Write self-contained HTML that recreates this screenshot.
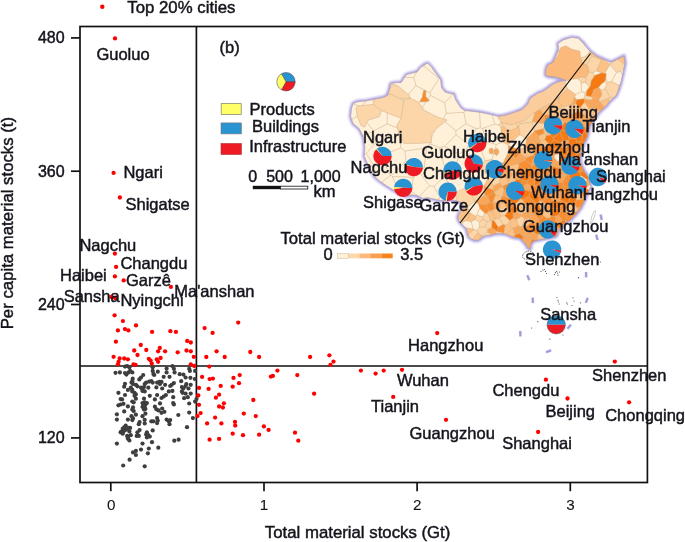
<!DOCTYPE html>
<html lang="en"><head><meta charset="utf-8"><title>Material stocks</title>
<style>html,body{margin:0;padding:0;background:#fff}svg{display:block}</style></head>
<body><svg width="685" height="542" viewBox="0 0 685 542" font-family="'Liberation Sans', Arial, sans-serif" font-size="16.5px" fill="#14141c">
<style>text{stroke:#14141c;stroke-width:0.45px}</style>
<rect width="685" height="542" fill="#fff" stroke="none"/>
<defs><filter id="gl" x="-10%" y="-10%" width="120%" height="120%"><feGaussianBlur stdDeviation="0.9"/></filter></defs>
<path d="M351.4,108.7 L353.1,103.6 L357.5,101.7 L366.3,100.8 L375.0,99.1 L383.8,97.3 L387.3,95.5 L389.3,90.0 L390.8,83.5 L396.0,82.6 L401.3,82.4 L404.0,78.0 L406.6,74.5 L412.0,73.0 L417.1,71.9 L420.6,67.5 L424.0,64.8 L427.6,63.1 L431.1,66.6 L435.5,72.8 L440.7,79.8 L441.6,87.7 L445.1,92.0 L449.5,93.3 L453.9,94.2 L455.5,99.5 L458.3,104.1 L461.0,108.0 L464.6,110.4 L472.0,111.2 L479.7,112.2 L486.0,113.4 L492.2,114.8 L498.0,116.3 L504.8,115.3 L510.0,113.8 L516.0,111.8 L522.3,109.4 L527.6,104.2 L530.2,98.2 L538.1,93.0 L543.1,91.2 L547.5,88.3 L551.9,84.8 L556.3,82.4 L563.3,80.8 L566.0,80.3 L560.0,78.4 L554.0,77.0 L548.0,76.4 L545.5,75.0 L545.8,69.9 L547.5,65.0 L552.8,62.4 L556.0,55.5 L558.6,48.5 L557.8,43.6 L563.3,39.9 L572.0,37.3 L578.2,38.2 L582.6,42.3 L586.0,46.6 L589.6,51.0 L596.6,56.3 L603.6,59.2 L610.6,62.4 L617.6,59.2 L623.9,56.0 L625.0,63.3 L623.2,72.0 L621.3,80.8 L618.7,89.6 L616.0,95.7 L613.5,97.8 L610.0,101.0 L606.5,105.5 L602.5,109.0 L598.8,112.5 L596.0,117.0 L592.5,121.0 L589.5,126.0 L588.2,132.0 L587.0,137.3 L584.2,142.8 L581.5,150.0 L580.0,158.0 L580.8,163.8 L584.0,170.8 L588.6,177.8 L590.6,186.6 L586.5,195.3 L584.6,200.5 L581.1,207.5 L575.8,214.5 L570.6,219.8 L563.6,224.2 L559.2,229.4 L556.0,236.4 L549.5,238.0 L542.6,239.2 L533.8,241.0 L531.0,243.5 L530.2,248.9 L527.8,248.0 L525.9,244.3 L522.5,240.5 L519.8,238.2 L512.8,237.3 L507.5,234.7 L500.5,233.4 L495.0,233.8 L491.1,235.0 L486.5,235.5 L482.3,237.0 L478.8,240.2 L474.5,240.3 L471.5,239.0 L468.5,236.5 L467.2,232.0 L466.0,228.0 L462.5,225.0 L459.2,221.5 L457.8,217.3 L459.6,212.5 L463.5,208.0 L462.0,203.0 L456.0,200.5 L448.0,199.5 L440.3,200.5 L433.3,198.9 L427.5,197.8 L422.8,198.5 L417.5,195.8 L411.8,195.0 L405.0,196.0 L399.0,193.5 L392.6,189.6 L386.0,185.5 L380.3,181.5 L374.5,176.5 L370.5,170.0 L367.0,163.0 L364.2,156.3 L364.8,147.6 L363.7,137.6 L359.3,128.8 L353.1,123.6 L350.5,116.6Z" fill="none" stroke="#b0a4e6" stroke-width="3.8" stroke-linejoin="round" filter="url(#gl)"/>
<path d="M351.4,108.7 L353.1,103.6 L357.5,101.7 L366.3,100.8 L375.0,99.1 L383.8,97.3 L387.3,95.5 L389.3,90.0 L390.8,83.5 L396.0,82.6 L401.3,82.4 L404.0,78.0 L406.6,74.5 L412.0,73.0 L417.1,71.9 L420.6,67.5 L424.0,64.8 L427.6,63.1 L431.1,66.6 L435.5,72.8 L440.7,79.8 L441.6,87.7 L445.1,92.0 L449.5,93.3 L453.9,94.2 L455.5,99.5 L458.3,104.1 L461.0,108.0 L464.6,110.4 L472.0,111.2 L479.7,112.2 L486.0,113.4 L492.2,114.8 L498.0,116.3 L504.8,115.3 L510.0,113.8 L516.0,111.8 L522.3,109.4 L527.6,104.2 L530.2,98.2 L538.1,93.0 L543.1,91.2 L547.5,88.3 L551.9,84.8 L556.3,82.4 L563.3,80.8 L566.0,80.3 L560.0,78.4 L554.0,77.0 L548.0,76.4 L545.5,75.0 L545.8,69.9 L547.5,65.0 L552.8,62.4 L556.0,55.5 L558.6,48.5 L557.8,43.6 L563.3,39.9 L572.0,37.3 L578.2,38.2 L582.6,42.3 L586.0,46.6 L589.6,51.0 L596.6,56.3 L603.6,59.2 L610.6,62.4 L617.6,59.2 L623.9,56.0 L625.0,63.3 L623.2,72.0 L621.3,80.8 L618.7,89.6 L616.0,95.7 L613.5,97.8 L610.0,101.0 L606.5,105.5 L602.5,109.0 L598.8,112.5 L596.0,117.0 L592.5,121.0 L589.5,126.0 L588.2,132.0 L587.0,137.3 L584.2,142.8 L581.5,150.0 L580.0,158.0 L580.8,163.8 L584.0,170.8 L588.6,177.8 L590.6,186.6 L586.5,195.3 L584.6,200.5 L581.1,207.5 L575.8,214.5 L570.6,219.8 L563.6,224.2 L559.2,229.4 L556.0,236.4 L549.5,238.0 L542.6,239.2 L533.8,241.0 L531.0,243.5 L530.2,248.9 L527.8,248.0 L525.9,244.3 L522.5,240.5 L519.8,238.2 L512.8,237.3 L507.5,234.7 L500.5,233.4 L495.0,233.8 L491.1,235.0 L486.5,235.5 L482.3,237.0 L478.8,240.2 L474.5,240.3 L471.5,239.0 L468.5,236.5 L467.2,232.0 L466.0,228.0 L462.5,225.0 L459.2,221.5 L457.8,217.3 L459.6,212.5 L463.5,208.0 L462.0,203.0 L456.0,200.5 L448.0,199.5 L440.3,200.5 L433.3,198.9 L427.5,197.8 L422.8,198.5 L417.5,195.8 L411.8,195.0 L405.0,196.0 L399.0,193.5 L392.6,189.6 L386.0,185.5 L380.3,181.5 L374.5,176.5 L370.5,170.0 L367.0,163.0 L364.2,156.3 L364.8,147.6 L363.7,137.6 L359.3,128.8 L353.1,123.6 L350.5,116.6Z" fill="#fef0d9"/>
<g stroke="#c9a882" stroke-width="0.35" stroke-linejoin="round">
<path d="M439.1,78.6L439.7,78.5L435.5,72.8L431.1,66.6L427.6,63.1L426.3,63.7L423.6,66.1Z" fill="#fef0d9"/>
<path d="M501.0,121.6L498.0,117.5L501.4,115.8L498.0,116.3L492.2,114.8L491.8,114.7L494.8,124.2L498.9,125.2Z" fill="#fef0d9"/>
<path d="M363.7,137.6L364.8,147.6L364.4,153.8L366.3,153.6L375.4,142.9L373.6,131.4L362.6,135.3Z" fill="#fef0d9"/>
<path d="M373.9,130.7L366.8,122.5L364.5,127.1L361.0,125.3L357.5,116.6L357.4,116.1L351.6,119.5L353.1,123.6L359.3,128.8L362.6,135.3L373.6,131.4Z" fill="#fef0d9"/>
<path d="M467.4,220.6L470.3,213.1L467.8,207.5L463.5,208.0L459.6,212.5L457.9,217.0L462.8,221.8Z" fill="#fcc185"/>
<path d="M390.8,83.5L390.2,86.1L392.2,84.9L392.5,83.2Z" fill="#fef0d9"/>
<path d="M523.4,237.3L521.5,239.6L522.5,240.5L525.9,244.3L526.2,244.8L527.7,243.0Z" fill="#faa659"/>
<path d="M500.7,127.4L504.7,127.1L502.0,124.0L501.6,122.4L501.0,121.6L498.9,125.2Z" fill="#fcd6a8"/>
<path d="M519.0,126.3L520.4,123.7L519.8,122.0L516.6,123.2L516.9,126.4Z" fill="#fcd6a8"/>
<path d="M593.4,98.0L591.3,96.6L586.1,95.7L586.8,91.1L584.9,92.7L584.2,98.8L584.6,99.2L590.9,100.3Z" fill="#fcd6a8"/>
<path d="M405.1,151.0L400.6,147.8L387.6,153.0L384.9,165.1L390.4,175.4L391.3,175.6L406.0,161.2Z" fill="#fef0d9"/>
<path d="M532.4,121.6L535.3,111.8L535.0,112.0L525.0,120.0L519.8,122.0L520.4,123.7L531.8,122.3Z" fill="#fcd6a8"/>
<path d="M543.8,123.5L532.4,121.6L531.8,122.3L534.8,130.8L543.5,128.7L545.3,125.3Z" fill="#fcd6a8"/>
<path d="M439.3,147.5L430.2,143.8L426.5,147.7L424.1,167.2L445.3,171.0L445.6,170.6Z" fill="#fef0d9"/>
<path d="M573.8,192.5L573.9,192.5L574.2,192.2L575.5,186.2L571.5,183.8L567.6,187.0Z" fill="#f57a14"/>
<path d="M426.5,147.7L405.1,151.0L406.0,161.2L419.0,172.4L419.4,172.3L424.1,167.2Z" fill="#fef0d9"/>
<path d="M497.2,231.7L498.4,227.0L493.9,220.3L491.9,221.0L491.5,227.2Z" fill="#f57a14"/>
<path d="M550.3,103.2L559.2,98.3L560.0,96.0L556.0,100.0L550.2,103.2Z" fill="#fcc185"/>
<path d="M625.0,63.3L623.9,56.0L617.8,59.1L624.6,65.1Z" fill="#fcc185"/>
<path d="M474.8,201.2L467.5,186.7L455.4,192.4L455.4,192.4L456.2,200.6L462.0,203.0L463.5,208.0L463.5,208.0L467.8,207.5Z" fill="#fcd6a8"/>
<path d="M400.2,137.0L399.6,136.0L397.6,128.1L387.3,123.8L373.9,130.7L373.6,131.4L375.4,142.9L387.6,153.0L400.6,147.8Z" fill="#fef0d9"/>
<path d="M566.6,155.2L561.3,155.1L559.1,160.9L563.5,163.2L567.7,157.0Z" fill="#f57a14"/>
<path d="M594.9,108.1L600.0,102.1L600.1,101.7L598.2,99.0L593.9,98.3L593.4,98.0L590.9,100.3L593.2,108.3L593.5,108.5Z" fill="#faa659"/>
<path d="M542.9,169.3L550.0,166.8L547.1,159.4L545.3,157.5L540.5,159.8L539.0,163.0Z" fill="#faa659"/>
<path d="M508.0,144.9L520.2,134.6L519.0,126.3L516.9,126.4L517.0,128.0L508.0,131.0L504.7,127.1L500.7,127.4L502.3,142.1Z" fill="#fcc185"/>
<path d="M488.3,176.7L479.6,166.7L476.4,167.3L467.6,174.8L468.0,185.6L483.9,185.9L487.8,179.2Z" fill="#fef0d9"/>
<path d="M584.9,92.7L581.7,91.6L581.7,91.8L575.5,94.4L574.6,97.0L576.5,99.7L584.2,98.8Z" fill="#fef0d9"/>
<path d="M467.6,174.8L455.5,168.6L445.6,170.6L445.3,171.0L444.1,176.7L455.4,192.4L467.5,186.7L468.0,185.6Z" fill="#fef0d9"/>
<path d="M457.9,217.0L457.8,217.3L459.2,221.5L462.5,225.0L462.8,225.3L462.8,221.8Z" fill="#fcd6a8"/>
<path d="M503.0,224.2L498.4,227.0L497.2,231.7L497.2,231.8L504.0,233.3L505.2,224.9Z" fill="#f88d31"/>
<path d="M434.9,130.3L431.1,134.1L431.3,138.4Z" fill="#fef0d9"/>
<path d="M623.9,68.4L624.6,65.1L617.8,59.1L617.6,59.2L616.0,59.9L609.7,64.1L609.8,64.6L616.4,72.4L620.7,71.7Z" fill="#fcd6a8"/>
<path d="M400.6,147.8L405.1,151.0L426.5,147.7L430.2,143.8L430.0,142.6L417.1,143.3L404.0,143.3L400.2,137.0Z" fill="#fef0d9"/>
<path d="M439.3,147.5L445.6,170.6L455.5,168.6L459.2,153.9L444.7,146.5Z" fill="#fef0d9"/>
<path d="M488.3,176.7L497.4,175.1L499.6,163.3L492.0,159.3L484.8,160.8L479.6,166.7Z" fill="#fcd6a8"/>
<path d="M446.2,113.2L443.1,119.0L446.9,120.1L444.9,121.7L456.0,130.9L466.1,123.7L464.0,112.3Z" fill="#fef0d9"/>
<path d="M384.9,165.1L372.7,164.5L369.5,168.1L370.5,170.0L374.5,176.5L380.3,181.5L381.6,182.4L390.4,175.4Z" fill="#fef0d9"/>
<path d="M416.7,72.0L412.0,73.0L406.6,74.5L404.6,77.3L413.6,77.7Z" fill="#fef0d9"/>
<path d="M366.4,100.8L362.1,105.6L373.3,104.5L373.3,99.4L375.0,99.1Z" fill="#fef0d9"/>
<path d="M373.9,130.7L387.3,123.8L387.4,112.8L381.2,110.4L379.4,116.6L368.0,120.1L366.8,122.5Z" fill="#fef0d9"/>
<path d="M468.6,145.7L480.3,147.6L486.5,141.6L482.6,128.5L480.3,127.7L476.1,128.6L468.1,143.8Z" fill="#fef0d9"/>
<path d="M429.7,92.8L430.4,95.4L444.5,102.8L453.4,94.1L449.5,93.3L445.1,92.0L441.6,87.7L440.7,79.8L439.7,78.5L439.1,78.6Z" fill="#fef0d9"/>
<path d="M589.0,71.8L588.2,68.9L588.4,72.3Z" fill="#fcd6a8"/>
<path d="M586.9,64.4L582.6,63.2L582.6,63.3L587.4,66.1Z" fill="#fcd6a8"/>
<path d="M589.0,190.0L589.0,190.0L590.6,186.6L590.1,184.3L585.5,188.2Z" fill="#fef0d9"/>
<path d="M494.1,208.8L499.1,209.2L499.7,208.5L500.9,202.2L500.7,202.0L492.6,202.4L492.6,202.5Z" fill="#faa659"/>
<path d="M574.2,192.2L573.9,192.5L576.4,200.3L583.9,199.0L582.1,192.6Z" fill="#fcc185"/>
<path d="M366.4,100.8L366.3,100.8L357.5,101.7L353.1,103.6L353.0,103.9L358.1,106.1L358.4,105.9L362.1,105.6Z" fill="#fef0d9"/>
<path d="M419.4,172.3L419.0,172.4L413.2,177.4L411.4,191.5L417.4,195.8L417.5,195.8L419.3,196.7L429.6,185.7Z" fill="#fef0d9"/>
<path d="M520.6,226.5L519.5,233.7L523.5,236.9L523.6,236.8L526.8,229.7L525.2,227.4L522.1,226.2Z" fill="#faa659"/>
<path d="M583.6,143.5L584.0,143.3L584.2,142.8L587.0,137.3L587.6,134.5L584.8,131.4L582.6,132.7L581.8,141.9Z" fill="#f57a14"/>
<path d="M534.0,213.7L534.0,204.9L528.3,206.1L528.9,212.6L531.2,214.8Z" fill="#faa659"/>
<path d="M553.3,137.8L553.5,139.9L560.5,143.0L563.3,140.3L560.0,132.2Z" fill="#f57a14"/>
<path d="M554.0,60.2L553.8,60.3L552.8,62.4L553.1,61.7L553.7,61.5L554.4,60.5Z" fill="#fcc185"/>
<path d="M547.2,75.9L548.0,76.4L554.0,77.0L554.1,77.0L554.7,76.8L554.0,76.6L548.0,76.0L547.3,76.0L547.2,75.9Z" fill="#fcc185"/>
<path d="M471.4,221.9L467.4,220.6L462.8,221.8L462.8,225.3L466.0,228.0L473.4,229.3Z" fill="#fef0d9"/>
<path d="M586.0,77.5L581.0,77.0L577.0,78.5L580.8,81.3L581.0,83.2L585.5,82.4Z" fill="#fcd6a8"/>
<path d="M429.7,92.8L425.8,90.7L425.8,96.4L427.9,99.1L430.4,95.4Z" fill="#fef0d9"/>
<path d="M415.8,85.5L408.2,94.6L409.2,95.5L410.1,98.2L418.8,102.6L422.3,107.7L426.3,101.6L425.8,101.7L419.7,101.7L422.3,97.3L423.7,90.6L425.6,90.6Z" fill="#fef0d9"/>
<path d="M403.8,99.8L404.5,100.6L410.1,98.2L405.2,98.2Z" fill="#fef0d9"/>
<path d="M431.3,138.4L431.5,142.5L430.0,142.6L430.2,143.8L439.3,147.5L444.7,146.5L456.1,134.7L456.0,130.9L444.9,121.7L438.1,127.1L434.9,130.3Z" fill="#fef0d9"/>
<path d="M512.8,227.9L512.4,227.8L506.0,234.4L507.5,234.7L511.7,236.7L514.5,235.8L515.1,234.8Z" fill="#fcc185"/>
<path d="M467.9,234.4L468.5,236.5L468.6,236.6L468.5,234.7Z" fill="#fcd6a8"/>
<path d="M494.5,151.2L494.5,149.5L495.1,149.3L496.6,144.5L486.5,141.6L480.3,147.6L484.8,160.8L492.0,159.3Z" fill="#fef0d9"/>
<path d="M554.2,157.5L555.0,154.5L552.4,151.8L545.4,154.8L545.3,157.5L547.1,159.4Z" fill="#faa659"/>
<path d="M500.9,202.2L499.7,208.5L506.8,208.8L505.7,203.8Z" fill="#fcc185"/>
<path d="M366.3,153.6L372.7,164.5L384.9,165.1L387.6,153.0L375.4,142.9Z" fill="#fef0d9"/>
<path d="M568.3,140.2L563.3,140.3L560.5,143.0L560.6,146.8L566.0,148.5L569.3,144.1Z" fill="#faa659"/>
<path d="M505.7,203.8L509.6,200.8L509.4,198.2L502.5,195.9L501.5,196.5L500.7,202.0L500.9,202.2Z" fill="#f88d31"/>
<path d="M520.2,134.6L508.0,144.9L508.3,145.7L519.6,149.9L525.3,146.7L526.6,139.2L526.4,138.8Z" fill="#fef0d9"/>
<path d="M494.3,185.5L487.8,179.2L483.9,185.9L484.2,186.5L493.1,190.0Z" fill="#fcc185"/>
<path d="M481.0,235.0L479.0,240.0L482.3,237.0L483.6,236.6L482.7,235.4Z" fill="#fcc185"/>
<path d="M546.2,231.8L547.1,224.7L545.0,222.9L538.4,224.0L538.3,224.2L545.0,233.2L545.3,233.2Z" fill="#f88d31"/>
<path d="M611.7,81.3L607.5,82.3L606.7,83.1L605.1,88.6L610.1,97.2L612.8,97.7L613.8,97.5L616.0,95.7L618.4,90.3L618.5,85.0Z" fill="#fcd6a8"/>
<path d="M391.3,175.6L390.4,175.4L381.6,182.4L386.0,185.5L392.6,189.6L399.0,193.5L400.0,193.9L400.1,193.7L392.5,176.6Z" fill="#fef0d9"/>
<path d="M502.3,186.2L502.3,186.4L504.1,190.5L513.4,190.8L514.0,187.0L513.0,185.1L508.9,182.8Z" fill="#f88d31"/>
<path d="M528.3,206.1L524.4,204.3L522.4,207.5L523.3,212.5L528.9,212.6Z" fill="#fcc185"/>
<path d="M609.7,64.1L616.0,59.9L610.6,62.4L603.6,59.2L603.2,59.0L603.0,59.6Z" fill="#fef0d9"/>
<path d="M585.9,127.4L573.4,122.4L572.7,128.7L573.8,130.1L581.4,132.8L582.6,132.7L584.8,131.4Z" fill="#f57a14"/>
<path d="M487.2,221.5L490.8,220.7L487.2,212.9L484.9,213.2L482.6,217.0L483.0,219.7Z" fill="#fcd6a8"/>
<path d="M459.2,153.9L465.7,150.9L468.6,145.7L468.1,143.8L456.1,134.7L444.7,146.5Z" fill="#fef0d9"/>
<path d="M548.1,177.0L551.2,167.4L550.0,166.8L542.9,169.3L541.4,171.4L541.5,171.7L545.3,177.1Z" fill="#f88d31"/>
<path d="M562.6,182.3L566.1,176.0L562.2,173.9L555.6,175.7L555.0,177.0L557.5,182.2Z" fill="#faa659"/>
<path d="M555.1,226.2L551.6,224.1L547.1,224.7L546.2,231.8Z" fill="#f88d31"/>
<path d="M446.2,113.2L464.0,112.3L465.4,110.5L464.6,110.4L461.0,108.0L458.3,104.1L455.5,99.5L453.9,94.2L453.4,94.1L444.5,102.8Z" fill="#fef0d9"/>
<path d="M555.6,175.7L551.6,167.5L551.2,167.4L548.1,177.0L549.9,178.5L555.0,177.0Z" fill="#faa659"/>
<path d="M555.3,216.6L558.6,214.9L560.4,211.0L558.2,208.4L552.3,208.5L550.2,210.4L551.3,216.1Z" fill="#f57a14"/>
<path d="M570.4,213.9L572.6,217.7L575.8,214.5L577.8,211.9L577.3,211.2Z" fill="#f88d31"/>
<path d="M542.0,181.7L541.9,181.7L535.0,186.1L542.2,190.6L542.8,190.3L544.9,185.7Z" fill="#f57a14"/>
<path d="M498.7,176.2L502.7,176.2L509.9,171.4L509.0,166.0L503.6,162.4L499.6,163.3L497.4,175.1Z" fill="#faa659"/>
<path d="M527.8,183.2L527.5,181.1L521.2,180.0L520.6,185.4L522.7,186.8Z" fill="#f88d31"/>
<path d="M573.5,204.1L576.4,200.3L573.9,192.5L573.8,192.5L569.0,195.3L569.3,204.0L569.3,204.0Z" fill="#f57a14"/>
<path d="M491.8,114.7L486.0,113.4L479.7,112.2L479.5,112.2L480.3,127.7L482.6,128.5L494.8,124.2Z" fill="#fef0d9"/>
<path d="M562.2,173.9L566.1,176.0L567.1,175.7L567.4,166.6L564.2,164.9L559.8,168.9Z" fill="#faa659"/>
<path d="M496.6,144.5L502.3,142.1L500.7,127.4L498.9,125.2L494.8,124.2L482.6,128.5L486.5,141.6Z" fill="#fef0d9"/>
<path d="M596.3,70.7L592.9,72.5L594.4,76.1L594.8,75.5L601.8,72.9L602.2,73.0Z" fill="#fef0d9"/>
<path d="M606.7,83.1L607.5,82.3L605.7,77.6L605.3,80.8L603.6,82.2Z" fill="#fef0d9"/>
<path d="M581.8,141.9L577.1,141.3L575.2,145.9L579.0,148.3L583.6,144.4L583.6,144.4L583.6,143.5Z" fill="#f57a14"/>
<path d="M600.6,90.4L601.8,94.8L599.2,99.2L598.2,99.0L600.1,101.7L609.0,98.2L610.1,97.2L605.1,88.6Z" fill="#fcd6a8"/>
<path d="M560.0,132.2L560.5,130.5L557.7,128.8L550.8,130.5L550.2,135.2L553.3,137.8Z" fill="#f57a14"/>
<path d="M433.9,186.2L429.6,185.7L419.3,196.7L422.8,198.5L427.5,197.8L433.3,198.9L438.7,200.1L439.7,196.9Z" fill="#fef0d9"/>
<path d="M618.4,90.3L618.7,89.6L620.2,84.5L618.5,85.0Z" fill="#fcd6a8"/>
<path d="M508.6,223.7L505.2,224.9L504.0,233.3L504.9,234.2L506.0,234.4L512.4,227.8Z" fill="#fcc185"/>
<path d="M555.8,125.8L557.7,128.8L560.5,130.5L561.3,130.1L563.9,122.7L561.5,119.1L557.0,120.2Z" fill="#fcc185"/>
<path d="M592.9,72.5L589.0,71.8L588.4,72.3L588.5,73.0L586.0,77.5L586.0,77.5L585.5,82.4L589.4,87.4L590.4,86.1L591.3,80.8L594.4,76.1Z" fill="#fcd6a8"/>
<path d="M524.4,204.3L528.3,206.1L534.0,204.9L536.2,202.9L528.5,196.6L522.8,199.7Z" fill="#f88d31"/>
<path d="M468.6,145.7L465.7,150.9L476.4,167.3L479.6,166.7L484.8,160.8L480.3,147.6Z" fill="#fef0d9"/>
<path d="M532.1,187.7L527.8,183.2L522.7,186.8L523.5,189.3L530.7,191.5L530.9,191.4Z" fill="#faa659"/>
<path d="M532.1,239.6L537.6,240.2L538.0,234.5L533.2,231.9L531.2,236.4Z" fill="#faa659"/>
<path d="M400.0,193.9L405.0,196.0L411.8,195.0L417.4,195.8L411.4,191.5L400.1,193.7Z" fill="#fef0d9"/>
<path d="M532.1,239.6L530.5,242.7L531.1,243.5L533.8,241.0L537.6,240.2L537.6,240.2Z" fill="#f57a14"/>
<path d="M610.1,97.2L609.0,98.2L607.9,103.6L610.0,101.0L612.9,98.4L612.8,97.7Z" fill="#fcd6a8"/>
<path d="M616.4,72.4L611.7,81.3L618.5,85.0L620.2,84.5L621.3,80.8L622.6,75.0L620.7,71.7Z" fill="#fef0d9"/>
<path d="M403.2,99.8L402.7,100.1L403.9,100.8L404.5,100.6L403.8,99.8Z" fill="#fef0d9"/>
<path d="M387.3,123.8L397.6,128.1L396.9,125.3L401.3,118.3L387.4,112.8Z" fill="#fef0d9"/>
<path d="M555.1,226.2L554.8,232.9L557.0,234.1L559.2,229.4L560.2,228.3L555.8,226.0Z" fill="#faa659"/>
<path d="M616.4,72.4L609.8,64.6L604.5,73.5L606.2,73.8L605.7,77.6L607.5,82.3L611.7,81.3Z" fill="#fef0d9"/>
<path d="M583.9,199.0L576.4,200.3L573.5,204.1L577.3,208.3L581.6,206.5L582.5,204.7L584.7,199.6Z" fill="#f88d31"/>
<path d="M550.2,135.2L550.8,130.5L547.1,125.4L545.3,125.3L543.5,128.7L544.0,133.3L546.3,135.4Z" fill="#fcc185"/>
<path d="M562.5,220.6L558.6,214.9L555.3,216.6L556.3,224.9Z" fill="#faa659"/>
<path d="M578.9,180.4L581.0,175.5L580.6,172.3L576.7,171.1L568.4,175.9L570.8,178.8Z" fill="#f57a14"/>
<path d="M479.5,208.0L476.8,215.1L482.6,217.0L484.9,213.2Z" fill="#fef0d9"/>
<path d="M586.4,126.9L585.9,127.4L584.8,131.4L587.6,134.5L588.2,132.0L589.3,127.1L587.1,126.5Z" fill="#f57a14"/>
<path d="M518.3,163.6L517.9,163.5L509.0,166.0L509.9,171.4L512.4,174.2L513.0,174.3L517.4,172.7L519.2,165.9Z" fill="#fcc185"/>
<path d="M567.7,157.0L571.1,158.8L576.7,154.8L576.8,154.5L572.6,150.4L567.6,152.1L566.6,155.2Z" fill="#f57a14"/>
<path d="M531.2,236.4L533.2,231.9L533.2,231.9L526.8,229.7L523.6,236.8Z" fill="#faa659"/>
<path d="M549.7,236.5L554.8,232.9L555.1,226.2L555.1,226.2L546.2,231.8L545.3,233.2L546.4,235.2Z" fill="#faa659"/>
<path d="M589.7,51.3L586.0,56.0L580.8,58.0L582.6,63.2L586.9,64.4L592.1,56.3Z" fill="#fcd6a8"/>
<path d="M519.6,149.9L508.3,145.7L508.2,152.7L516.3,158.5L520.1,152.9Z" fill="#f88d31"/>
<path d="M465.7,150.9L459.2,153.9L455.5,168.6L467.6,174.8L476.4,167.3Z" fill="#fef0d9"/>
<path d="M558.2,208.4L560.4,211.0L566.0,210.6L569.3,204.0L569.3,204.0L560.4,200.0L558.7,201.6Z" fill="#f88d31"/>
<path d="M558.7,201.6L552.4,200.3L550.9,203.3L552.3,208.5L558.2,208.4Z" fill="#f57a14"/>
<path d="M482.7,235.4L483.6,236.6L486.5,235.5L491.1,235.0L492.1,234.7L487.3,232.0Z" fill="#fcd6a8"/>
<path d="M538.0,234.5L545.0,233.2L538.3,224.2L536.2,224.9L533.2,231.9L533.2,231.9Z" fill="#f57a14"/>
<path d="M438.7,200.1L440.3,200.5L448.0,199.5L456.0,200.5L456.2,200.6L455.4,192.4L439.7,196.9Z" fill="#fef0d9"/>
<path d="M513.0,174.3L512.4,174.2L508.4,180.3L508.9,182.8L513.0,185.1L515.8,179.7Z" fill="#fcc185"/>
<path d="M497.2,231.7L491.5,227.2L487.6,229.6L487.3,232.0L492.1,234.7L495.0,233.8L495.7,233.7L497.2,231.8Z" fill="#faa659"/>
<path d="M353.0,103.9L351.4,108.7L350.5,116.6L351.6,119.5L357.4,116.1L356.0,108.0L358.1,106.1Z" fill="#fef0d9"/>
<path d="M520.2,134.6L526.4,138.8L534.7,131.6L534.8,130.8L531.8,122.3L520.4,123.7L519.0,126.3Z" fill="#fcd6a8"/>
<path d="M573.8,192.5L567.6,187.0L564.3,187.0L561.6,192.8L569.0,195.3Z" fill="#f88d31"/>
<path d="M539.0,219.6L538.4,224.0L545.0,222.9L547.1,217.9L543.3,215.4Z" fill="#f88d31"/>
<path d="M573.3,146.6L569.3,144.1L566.0,148.5L567.6,152.1L572.6,150.4Z" fill="#f57a14"/>
<path d="M550.3,103.2L552.9,106.9L560.3,110.1L561.2,109.2L562.1,106.1L558.0,102.0L559.2,98.3Z" fill="#fcc185"/>
<path d="M483.0,219.7L482.6,217.0L476.8,215.1L475.6,215.9L475.2,219.6L479.4,222.6Z" fill="#fcd6a8"/>
<path d="M391.3,175.6L392.5,176.6L413.2,177.4L419.0,172.4L406.0,161.2Z" fill="#fef0d9"/>
<path d="M542.2,190.6L538.7,195.2L539.4,201.1L542.1,201.1L549.8,195.8L549.8,195.5L542.8,190.3Z" fill="#f88d31"/>
<path d="M366.3,153.6L364.4,153.8L364.2,156.3L367.0,163.0L369.5,168.1L372.7,164.5Z" fill="#fef0d9"/>
<path d="M529.7,218.6L531.2,214.8L528.9,212.6L523.3,212.5L521.5,215.1L521.5,216.2L524.6,219.0Z" fill="#faa659"/>
<path d="M584.9,172.2L584.0,170.8L583.0,168.5L581.6,171.7Z" fill="#f57a14"/>
<path d="M444.1,176.7L433.9,186.2L439.7,196.9L455.4,192.4L455.4,192.4Z" fill="#fef0d9"/>
<path d="M484.9,213.2L487.2,212.9L489.2,211.1L485.9,204.5L478.4,203.9L479.5,208.0Z" fill="#f88d31"/>
<path d="M423.6,66.1L422.3,66.1L420.6,67.5L417.1,71.9L416.7,72.0L413.6,77.7L415.8,85.5L425.6,90.6L425.8,90.6L425.8,90.7L429.7,92.8L439.1,78.6Z" fill="#fef0d9"/>
<path d="M549.6,144.3L544.5,139.4L540.4,140.9L540.1,144.5L543.7,148.4Z" fill="#fcc185"/>
<path d="M539.4,201.1L538.1,202.5L541.4,210.9L542.5,211.6L546.6,209.6L546.0,204.2L542.1,201.1Z" fill="#fcc185"/>
<path d="M601.2,60.0L603.0,59.6L603.2,59.0L596.6,56.3L589.6,51.0L589.8,51.2L589.7,51.3L592.1,56.3Z" fill="#fcc185"/>
<path d="M501.5,196.5L495.6,194.6L492.6,202.4L500.7,202.0Z" fill="#fcc185"/>
<path d="M538.7,195.2L530.9,191.4L530.7,191.5L528.5,196.6L536.2,202.9L538.1,202.5L539.4,201.1Z" fill="#f57a14"/>
<path d="M605.1,88.6L606.7,83.1L603.6,82.2L601.0,84.3L598.3,87.8L600.1,88.7L600.6,90.4Z" fill="#fef0d9"/>
<path d="M583.5,186.0L584.8,188.1L585.5,188.2L590.1,184.3L588.9,179.1L587.0,179.5Z" fill="#faa659"/>
<path d="M456.1,134.7L468.1,143.8L476.1,128.6L466.1,123.7L456.0,130.9Z" fill="#fef0d9"/>
<path d="M573.4,122.3L574.1,119.5L572.7,114.5L572.5,114.3L562.1,116.4L561.5,119.1L563.9,122.7Z" fill="#faa659"/>
<path d="M501.5,196.5L502.5,195.9L504.1,190.5L502.3,186.4L494.2,191.9L494.2,192.8L495.6,194.6Z" fill="#fcc185"/>
<path d="M400.1,193.7L411.4,191.5L413.2,177.4L392.5,176.6Z" fill="#fef0d9"/>
<path d="M578.3,110.8L584.3,115.2L584.9,115.0L587.1,110.0L580.3,107.5L579.6,107.7Z" fill="#fcc185"/>
<path d="M517.8,208.6L522.4,207.5L524.4,204.3L522.8,199.7L520.7,198.7L514.0,204.9Z" fill="#fcc185"/>
<path d="M570.6,219.8L572.6,217.7L570.4,213.9L567.7,213.1L565.5,221.3L565.6,221.4L567.6,221.7Z" fill="#f88d31"/>
<path d="M503.0,224.2L499.4,217.9L495.5,218.9L493.9,220.3L498.4,227.0Z" fill="#fcd6a8"/>
<path d="M531.4,222.2L536.2,224.9L538.3,224.2L538.4,224.0L539.0,219.6L534.5,213.8L534.0,213.7L531.2,214.8L529.7,218.6Z" fill="#faa659"/>
<path d="M531.2,168.1L524.7,169.9L523.1,174.4L529.7,177.5L531.5,176.4L532.2,170.0Z" fill="#f57a14"/>
<path d="M573.4,122.4L585.9,127.4L586.4,126.9L582.3,118.0L574.1,119.5L573.4,122.3Z" fill="#faa659"/>
<path d="M523.1,174.4L524.7,169.9L519.2,165.9L517.4,172.7L521.5,175.3Z" fill="#f57a14"/>
<path d="M554.4,60.5L558.9,54.5L560.6,47.8L560.6,47.8L558.9,52.0L558.3,49.4L556.0,55.5L554.0,59.7L554.0,60.2Z" fill="#fcd6a8"/>
<path d="M530.5,242.7L532.1,239.6L531.2,236.4L523.6,236.8L523.5,236.9L523.4,237.3L527.7,243.0Z" fill="#faa659"/>
<path d="M579.5,161.6L576.7,154.8L571.1,158.8L571.6,160.6L576.4,163.3Z" fill="#f88d31"/>
<path d="M511.7,236.7L512.8,237.3L515.5,237.6L514.5,235.8Z" fill="#faa659"/>
<path d="M545.0,222.9L547.1,224.7L551.6,224.1L549.8,217.4L547.1,217.9Z" fill="#f88d31"/>
<path d="M477.8,232.6L472.4,239.4L474.5,240.3L478.8,240.2L479.0,240.0L481.0,235.0Z" fill="#fcc185"/>
<path d="M512.8,227.9L515.1,234.8L519.5,233.7L520.6,226.5L518.7,225.7Z" fill="#faa659"/>
<path d="M520.6,185.4L521.2,180.0L520.7,179.3L515.8,179.7L513.0,185.1L514.0,187.0Z" fill="#f57a14"/>
<path d="M566.9,131.4L569.1,139.3L573.1,138.1L573.8,130.1L572.7,128.7Z" fill="#f88d31"/>
<path d="M561.3,130.1L566.9,131.4L572.7,128.7L573.4,122.4L573.4,122.3L563.9,122.7Z" fill="#f57a14"/>
<path d="M514.5,193.5L509.4,198.2L509.6,200.8L513.3,204.9L514.0,204.9L520.7,198.7L518.7,195.7Z" fill="#f57a14"/>
<path d="M575.4,138.9L577.1,141.3L581.8,141.9L582.6,132.7L581.4,132.8Z" fill="#f57a14"/>
<path d="M589.0,108.6L584.5,102.1L580.3,107.5L587.1,110.0Z" fill="#fcd6a8"/>
<path d="M570.9,105.6L570.6,110.6L572.5,114.3L572.7,114.5L578.3,110.8L579.6,107.7L575.6,103.2Z" fill="#fcc185"/>
<path d="M579.4,153.0L580.9,153.3L581.5,150.0L583.6,144.4L579.0,148.3Z" fill="#faa659"/>
<path d="M514.5,193.5L518.7,195.7L523.5,189.3L522.7,186.8L520.6,185.4L514.0,187.0L513.4,190.8Z" fill="#f88d31"/>
<path d="M557.0,120.2L552.7,118.2L549.4,124.1L555.8,125.8Z" fill="#fcd6a8"/>
<path d="M513.3,218.1L509.6,220.4L508.6,223.7L512.4,227.8L512.8,227.9L518.7,225.7L516.5,219.4Z" fill="#fcc185"/>
<path d="M561.2,109.2L570.6,110.6L570.9,105.6L569.8,104.7L563.0,107.0L562.1,106.1Z" fill="#fcd6a8"/>
<path d="M497.2,231.8L495.7,233.7L500.5,233.4L504.9,234.2L504.0,233.3Z" fill="#fcd6a8"/>
<path d="M424.1,167.2L419.4,172.3L429.6,185.7L433.9,186.2L444.1,176.7L445.3,171.0Z" fill="#fef0d9"/>
<path d="M502.7,176.2L508.4,180.3L512.4,174.2L509.9,171.4Z" fill="#faa659"/>
<path d="M518.7,225.7L520.6,226.5L522.1,226.2L524.6,219.0L521.5,216.2L516.5,219.4Z" fill="#fcd6a8"/>
<path d="M552.4,200.3L558.7,201.6L560.4,200.0L561.4,193.0L560.2,192.6L550.9,194.4L549.8,195.5L549.8,195.8Z" fill="#faa659"/>
<path d="M565.3,223.1L567.6,221.7L565.6,221.4Z" fill="#faa659"/>
<path d="M532.4,121.6L543.8,123.5L544.8,114.7L539.7,109.2L535.3,111.8Z" fill="#faa659"/>
<path d="M543.7,148.4L540.1,144.5L535.2,145.9L533.4,150.9L534.4,152.5L543.5,151.1Z" fill="#f88d31"/>
<path d="M494.1,208.8L492.4,210.5L495.5,218.9L499.4,217.9L500.9,216.2L499.1,209.2Z" fill="#fcc185"/>
<path d="M403.2,99.8L402.0,98.2L399.6,98.2L402.7,100.1Z" fill="#fef0d9"/>
<path d="M392.2,84.9L390.2,86.1L389.3,90.0L387.5,94.9L388.1,94.8L390.0,88.0L392.6,85.4Z" fill="#fef0d9"/>
<path d="M531.5,165.7L531.0,164.9L525.4,160.1L518.3,163.6L519.2,165.9L524.7,169.9L531.2,168.1Z" fill="#f88d31"/>
<path d="M522.4,207.5L517.8,208.6L516.8,211.8L521.5,215.1L523.3,212.5Z" fill="#fcc185"/>
<path d="M550.3,103.2L550.2,103.2L545.0,106.0L539.7,109.2L544.8,114.7L550.9,115.4L552.9,106.9Z" fill="#fcc185"/>
<path d="M466.1,123.7L476.1,128.6L480.3,127.7L479.5,112.2L472.0,111.2L465.4,110.5L464.0,112.3Z" fill="#fef0d9"/>
<path d="M475.2,219.6L475.6,215.9L470.3,213.1L467.4,220.6L471.4,221.9Z" fill="#fcc185"/>
<path d="M554.2,185.4L551.5,185.7L550.9,194.4L560.2,192.6Z" fill="#faa659"/>
<path d="M424.0,64.8L422.3,66.1L423.6,66.1L426.3,63.7Z" fill="#fef0d9"/>
<path d="M545.3,177.1L542.0,181.7L544.9,185.7L550.0,184.9L549.9,178.5L548.1,177.0Z" fill="#f88d31"/>
<path d="M566.0,210.6L560.4,211.0L558.6,214.9L562.5,220.6L565.5,221.3L567.7,213.1Z" fill="#f88d31"/>
<path d="M584.6,99.2L584.2,98.8L576.5,99.7L575.6,103.2L579.6,107.7L580.3,107.5L584.5,102.1Z" fill="#f57a14"/>
<path d="M575.5,186.2L574.2,192.2L582.1,192.6L584.8,188.1L583.5,186.0L579.4,183.6Z" fill="#fef0d9"/>
<path d="M609.8,64.6L609.7,64.1L603.0,59.6L601.2,60.0L596.3,70.7L602.2,73.0L604.5,73.5Z" fill="#fcc185"/>
<path d="M582.6,42.3L578.2,38.2L586.0,46.6Z" fill="#fcd6a8"/>
<path d="M539.0,163.0L531.5,165.7L531.2,168.1L532.2,170.0L541.4,171.4L542.9,169.3Z" fill="#f88d31"/>
<path d="M534.5,213.8L539.0,219.6L543.3,215.4L542.5,211.6L541.4,210.9Z" fill="#f88d31"/>
<path d="M487.2,221.5L485.0,226.7L487.6,229.6L491.5,227.2L491.9,221.0L490.8,220.7Z" fill="#fcd6a8"/>
<path d="M586.4,126.9L587.1,126.5L591.4,118.9L584.9,115.0L584.3,115.2L582.3,118.0Z" fill="#faa659"/>
<path d="M560.5,143.0L553.5,139.9L550.4,144.2L553.3,148.3L559.6,148.1L560.6,146.8Z" fill="#f57a14"/>
<path d="M552.4,200.3L549.8,195.8L542.1,201.1L546.0,204.2L550.9,203.3Z" fill="#f88d31"/>
<path d="M570.6,110.6L561.2,109.2L560.3,110.1L560.2,111.7L562.1,116.4L572.5,114.3Z" fill="#fcc185"/>
<path d="M549.7,236.5L550.5,237.7L556.0,236.4L557.0,234.1L554.8,232.9Z" fill="#f88d31"/>
<path d="M479.3,226.9L476.8,230.4L477.8,232.6L481.0,235.0L482.7,235.4L487.3,232.0L487.6,229.6L485.0,226.7Z" fill="#fcd6a8"/>
<path d="M542.0,181.7L545.3,177.1L541.5,171.7L537.6,178.1L541.9,181.7Z" fill="#faa659"/>
<path d="M503.6,162.4L508.2,152.7L508.3,145.7L508.0,144.9L502.3,142.1L496.6,144.5L495.1,149.3L497.5,148.5L499.0,152.0L497.0,155.5L494.5,154.0L494.5,151.2L492.0,159.3L499.6,163.3Z" fill="#fef0d9"/>
<path d="M523.5,236.9L519.5,233.7L515.1,234.8L514.5,235.8L515.5,237.6L519.8,238.2L521.5,239.6L523.4,237.3Z" fill="#f57a14"/>
<path d="M584.6,200.5L584.9,199.7L584.7,199.6L582.5,204.7Z" fill="#f57a14"/>
<path d="M533.4,150.9L527.9,149.5L525.7,157.8L525.7,157.9L534.1,154.8L534.4,152.5Z" fill="#fcc185"/>
<path d="M560.2,111.7L551.9,116.2L552.7,118.2L557.0,120.2L561.5,119.1L562.1,116.4Z" fill="#fcc185"/>
<path d="M543.8,123.5L545.3,125.3L547.1,125.4L549.4,124.1L552.7,118.2L551.9,116.2L550.9,115.4L544.8,114.7Z" fill="#f88d31"/>
<path d="M519.6,149.9L520.1,152.9L525.7,157.8L527.9,149.5L525.3,146.7Z" fill="#fcc185"/>
<path d="M484.2,186.5L483.9,185.9L468.0,185.6L467.5,186.7L474.8,201.2L475.9,201.5L484.7,194.9Z" fill="#fcd6a8"/>
<path d="M525.2,227.4L531.4,222.2L529.7,218.6L524.6,219.0L522.1,226.2Z" fill="#fcc185"/>
<path d="M575.8,169.0L569.3,165.6L567.4,166.6L567.1,175.7L568.4,175.9L576.7,171.1Z" fill="#f88d31"/>
<path d="M490.8,220.7L491.9,221.0L493.9,220.3L495.5,218.9L492.4,210.5L489.2,211.1L487.2,212.9Z" fill="#fcc185"/>
<path d="M540.5,159.8L545.3,157.5L545.4,154.8L543.5,151.1L534.4,152.5L534.1,154.8L534.7,156.1Z" fill="#f57a14"/>
<path d="M550.4,144.2L553.5,139.9L553.3,137.8L550.2,135.2L546.3,135.4L544.5,139.4L549.6,144.3Z" fill="#f57a14"/>
<path d="M596.3,70.7L601.2,60.0L592.1,56.3L586.9,64.4L587.4,66.1L588.0,66.5L588.2,68.9L589.0,71.8L592.9,72.5Z" fill="#fcd6a8"/>
<path d="M577.1,141.3L575.4,138.9L573.1,138.1L569.1,139.3L568.3,140.2L569.3,144.1L573.3,146.6L575.2,145.9Z" fill="#f57a14"/>
<path d="M534.7,186.1L535.0,186.1L541.9,181.7L537.6,178.1L534.3,178.2Z" fill="#f57a14"/>
<path d="M600.1,101.7L600.0,102.1L604.4,107.4L606.5,105.5L607.9,103.6L609.0,98.2Z" fill="#fcc185"/>
<path d="M557.7,128.8L555.8,125.8L549.4,124.1L547.1,125.4L550.8,130.5Z" fill="#f57a14"/>
<path d="M479.3,226.9L485.0,226.7L487.2,221.5L483.0,219.7L479.4,222.6Z" fill="#fcd6a8"/>
<path d="M573.1,138.1L575.4,138.9L581.4,132.8L573.8,130.1Z" fill="#f88d31"/>
<path d="M577.3,211.2L577.8,211.9L581.1,207.5L581.6,206.5L577.3,208.3Z" fill="#faa659"/>
<path d="M622.6,75.0L623.2,72.0L623.9,68.4L620.7,71.7Z" fill="#fef0d9"/>
<path d="M467.8,207.5L470.3,213.1L475.6,215.9L476.8,215.1L479.5,208.0L478.4,203.9L475.9,201.5L474.8,201.2Z" fill="#fef0d9"/>
<path d="M575.5,186.2L579.4,183.6L578.9,180.4L570.8,178.8L571.5,183.8Z" fill="#f88d31"/>
<path d="M508.5,210.2L504.5,215.7L509.6,220.4L513.3,218.1L513.1,213.5L509.5,210.1Z" fill="#f57a14"/>
<path d="M508.4,180.3L502.7,176.2L498.7,176.2L499.7,183.0L502.3,186.2L508.9,182.8Z" fill="#fcc185"/>
<path d="M576.8,154.5L576.7,154.8L579.5,161.6L580.5,161.8L580.0,158.0L580.9,153.3L579.4,153.0Z" fill="#f57a14"/>
<path d="M527.7,243.0L526.2,244.8L527.8,248.0L530.2,248.9L531.0,243.5L531.1,243.5L530.5,242.7Z" fill="#faa659"/>
<path d="M531.5,165.7L539.0,163.0L540.5,159.8L534.7,156.1L531.0,164.9Z" fill="#faa659"/>
<path d="M533.2,231.9L536.2,224.9L531.4,222.2L525.2,227.4L526.8,229.7Z" fill="#f88d31"/>
<path d="M516.8,211.8L513.1,213.5L513.3,218.1L516.5,219.4L521.5,216.2L521.5,215.1Z" fill="#faa659"/>
<path d="M499.7,208.5L499.1,209.2L500.9,216.2L504.5,215.7L508.5,210.2L506.8,208.8Z" fill="#fcd6a8"/>
<path d="M523.5,189.3L518.7,195.7L520.7,198.7L522.8,199.7L528.5,196.6L530.7,191.5Z" fill="#f57a14"/>
<path d="M544.3,238.9L549.5,238.0L550.5,237.7L549.7,236.5L546.4,235.2Z" fill="#faa659"/>
<path d="M392.6,85.4L393.4,84.5L397.8,85.9L408.2,94.6L415.8,85.5L413.6,77.7L404.6,77.3L404.0,78.0L401.3,82.4L396.0,82.6L392.5,83.2L392.2,84.9Z" fill="#fef0d9"/>
<path d="M403.2,99.8L403.8,99.8L405.2,98.2L402.0,98.2Z" fill="#fef0d9"/>
<path d="M532.1,187.7L530.9,191.4L538.7,195.2L542.2,190.6L535.0,186.1L534.7,186.1Z" fill="#f88d31"/>
<path d="M544.5,139.4L546.3,135.4L544.0,133.3L538.6,135.7L538.7,138.9L540.4,140.9Z" fill="#fcc185"/>
<path d="M513.3,204.9L509.5,210.1L513.1,213.5L516.8,211.8L517.8,208.6L514.0,204.9Z" fill="#f57a14"/>
<path d="M551.6,224.1L555.1,226.2L555.1,226.2L555.8,226.0L556.3,224.9L555.3,216.6L551.3,216.1L549.8,217.4Z" fill="#f88d31"/>
<path d="M525.4,160.1L531.0,164.9L534.7,156.1L534.1,154.8L525.7,157.9Z" fill="#f88d31"/>
<path d="M561.3,155.1L559.8,153.6L555.0,154.5L554.2,157.5L557.4,161.5L559.1,160.9Z" fill="#fef0d9"/>
<path d="M526.6,139.2L525.3,146.7L527.9,149.5L533.4,150.9L535.2,145.9L530.7,140.8Z" fill="#faa659"/>
<path d="M559.6,148.1L553.3,148.3L552.4,151.8L555.0,154.5L559.8,153.6Z" fill="#f88d31"/>
<path d="M521.5,175.3L517.4,172.7L513.0,174.3L515.8,179.7L520.7,179.3Z" fill="#faa659"/>
<path d="M584.9,115.0L591.4,118.9L593.5,118.0L593.5,108.5L593.2,108.3L589.0,108.6L587.1,110.0Z" fill="#fcc185"/>
<path d="M499.7,183.0L498.7,176.2L497.4,175.1L488.3,176.7L487.8,179.2L494.3,185.5Z" fill="#fcd6a8"/>
<path d="M536.2,202.9L534.0,204.9L534.0,213.7L534.5,213.8L541.4,210.9L538.1,202.5Z" fill="#f57a14"/>
<path d="M560.2,111.7L560.3,110.1L552.9,106.9L550.9,115.4L551.9,116.2Z" fill="#fcc185"/>
<path d="M576.4,163.3L575.8,169.0L576.7,171.1L580.6,172.3L581.6,171.7L583.0,168.5L580.8,163.8L580.5,161.8L579.5,161.6Z" fill="#f88d31"/>
<path d="M577.3,208.3L573.5,204.1L569.3,204.0L566.0,210.6L567.7,213.1L570.4,213.9L577.3,211.2Z" fill="#fcc185"/>
<path d="M574.6,97.0L572.0,104.0L569.8,104.7L570.9,105.6L575.6,103.2L576.5,99.7Z" fill="#faa659"/>
<path d="M552.4,151.8L553.3,148.3L550.4,144.2L549.6,144.3L543.7,148.4L543.5,151.1L545.4,154.8Z" fill="#f57a14"/>
<path d="M589.0,108.6L593.2,108.3L590.9,100.3L584.6,99.2L584.5,102.1Z" fill="#faa659"/>
<path d="M565.5,221.3L562.5,220.6L556.3,224.9L555.8,226.0L560.2,228.3L563.6,224.2L565.3,223.1L565.6,221.4Z" fill="#f57a14"/>
<path d="M551.5,185.7L550.0,184.9L544.9,185.7L542.8,190.3L549.8,195.5L550.9,194.4Z" fill="#f57a14"/>
<path d="M585.5,188.2L584.8,188.1L582.1,192.6L583.9,199.0L584.7,199.6L584.9,199.7L586.5,195.3L589.0,190.1L589.0,190.0Z" fill="#f57a14"/>
<path d="M502.5,195.9L509.4,198.2L514.5,193.5L513.4,190.8L504.1,190.5Z" fill="#faa659"/>
<path d="M473.6,229.4L476.8,230.4L479.3,226.9L479.4,222.6L475.2,219.6L471.4,221.9L473.4,229.3Z" fill="#fef0d9"/>
<path d="M554.1,77.0L560.0,78.4L562.6,79.2L562.6,79.1L560.0,78.0L554.7,76.8Z" fill="#fcd6a8"/>
<path d="M593.5,108.5L593.5,118.0L594.7,118.5L596.0,117.0L598.8,112.5L600.3,111.1L594.9,108.1Z" fill="#fcc185"/>
<path d="M583.5,186.0L587.0,179.5L581.0,175.5L578.9,180.4L579.4,183.6Z" fill="#fef0d9"/>
<path d="M537.6,240.2L537.6,240.2L542.6,239.2L544.3,238.9L546.4,235.2L545.3,233.2L545.0,233.2L538.0,234.5Z" fill="#fcc185"/>
<path d="M580.6,172.3L581.0,175.5L587.0,179.5L588.9,179.1L588.6,177.8L584.9,172.2L581.6,171.7Z" fill="#f57a14"/>
<path d="M540.4,140.9L538.7,138.9L530.7,140.8L535.2,145.9L540.1,144.5Z" fill="#faa659"/>
<path d="M542.5,211.6L543.3,215.4L547.1,217.9L549.8,217.4L551.3,216.1L550.2,210.4L546.6,209.6Z" fill="#fcc185"/>
<path d="M529.7,177.5L527.5,181.1L527.8,183.2L532.1,187.7L534.7,186.1L534.3,178.2L531.5,176.4Z" fill="#f88d31"/>
<path d="M516.3,158.5L508.2,152.7L503.6,162.4L509.0,166.0L517.9,163.5Z" fill="#faa659"/>
<path d="M520.1,152.9L516.3,158.5L517.9,163.5L518.3,163.6L525.4,160.1L525.7,157.9L525.7,157.8Z" fill="#faa659"/>
<path d="M594.9,108.1L600.3,111.1L602.5,109.0L604.4,107.4L600.0,102.1Z" fill="#faa659"/>
<path d="M586.8,91.1L586.9,90.4L589.4,87.4L585.5,82.4L581.0,83.2L581.7,91.6L584.9,92.7Z" fill="#fef0d9"/>
<path d="M489.2,211.1L492.4,210.5L494.1,208.8L492.6,202.5L490.3,202.0L485.9,204.5Z" fill="#f88d31"/>
<path d="M476.8,230.4L473.6,229.4L468.5,234.7L468.6,236.6L471.5,239.0L472.4,239.4L477.8,232.6Z" fill="#fcd6a8"/>
<path d="M494.2,192.8L494.2,191.9L493.1,190.0L484.2,186.5L484.7,194.9L487.5,195.9Z" fill="#f88d31"/>
<path d="M505.7,203.8L506.8,208.8L508.5,210.2L509.5,210.1L513.3,204.9L509.6,200.8Z" fill="#f88d31"/>
<path d="M567.7,157.0L563.5,163.2L564.2,164.9L567.4,166.6L569.3,165.6L571.6,160.6L571.1,158.8Z" fill="#faa659"/>
<path d="M575.8,169.0L576.4,163.3L571.6,160.6L569.3,165.6Z" fill="#f88d31"/>
<path d="M569.1,139.3L566.9,131.4L561.3,130.1L560.5,130.5L560.0,132.2L563.3,140.3L568.3,140.2Z" fill="#f57a14"/>
<path d="M550.9,203.3L546.0,204.2L546.6,209.6L550.2,210.4L552.3,208.5Z" fill="#faa659"/>
<path d="M502.3,186.4L502.3,186.2L499.7,183.0L494.3,185.5L493.1,190.0L494.2,191.9Z" fill="#faa659"/>
<path d="M589.5,126.0L592.5,121.0L594.7,118.5L593.5,118.0L591.4,118.9L587.1,126.5L589.3,127.1Z" fill="#f57a14"/>
<path d="M430.4,95.4L427.9,99.1L429.3,100.8L426.3,101.6L422.3,107.7L424.1,110.4L438.1,117.5L443.1,119.0L446.2,113.2L444.5,102.8Z" fill="#fef0d9"/>
<path d="M547.1,159.4L550.0,166.8L551.2,167.4L551.6,167.5L553.9,166.7L557.4,161.5L554.2,157.5Z" fill="#faa659"/>
<path d="M564.3,187.0L562.6,182.3L557.5,182.2L554.2,185.4L560.2,192.6L561.4,193.0L561.6,192.8Z" fill="#f88d31"/>
<path d="M473.4,229.3L466.0,228.0L466.0,228.0L467.2,232.0L467.9,234.4L468.5,234.7L473.6,229.4Z" fill="#fcc185"/>
<path d="M569.0,195.3L561.6,192.8L561.4,193.0L560.4,200.0L569.3,204.0Z" fill="#f57a14"/>
<path d="M485.9,204.5L490.3,202.0L487.5,195.9L484.7,194.9L475.9,201.5L478.4,203.9Z" fill="#faa659"/>
<path d="M534.7,131.6L526.4,138.8L526.6,139.2L530.7,140.8L538.7,138.9L538.6,135.7Z" fill="#faa659"/>
<path d="M527.5,181.1L529.7,177.5L523.1,174.4L521.5,175.3L520.7,179.3L521.2,180.0Z" fill="#f57a14"/>
<path d="M566.6,155.2L567.6,152.1L566.0,148.5L560.6,146.8L559.6,148.1L559.8,153.6L561.3,155.1Z" fill="#f57a14"/>
<path d="M492.6,202.4L495.6,194.6L494.2,192.8L487.5,195.9L490.3,202.0L492.6,202.5Z" fill="#f88d31"/>
<path d="M576.8,154.5L579.4,153.0L579.0,148.3L575.2,145.9L573.3,146.6L572.6,150.4Z" fill="#faa659"/>
<path d="M541.4,171.4L532.2,170.0L531.5,176.4L534.3,178.2L537.6,178.1L541.5,171.7Z" fill="#f88d31"/>
<path d="M566.1,176.0L562.6,182.3L564.3,187.0L567.6,187.0L571.5,183.8L570.8,178.8L568.4,175.9L567.1,175.7Z" fill="#f88d31"/>
<path d="M543.5,128.7L534.8,130.8L534.7,131.6L538.6,135.7L544.0,133.3Z" fill="#f88d31"/>
<path d="M582.3,118.0L584.3,115.2L578.3,110.8L572.7,114.5L574.1,119.5Z" fill="#f57a14"/>
<path d="M551.5,185.7L554.2,185.4L557.5,182.2L555.0,177.0L549.9,178.5L550.0,184.9Z" fill="#f88d31"/>
<path d="M499.4,217.9L503.0,224.2L505.2,224.9L508.6,223.7L509.6,220.4L504.5,215.7L500.9,216.2Z" fill="#fcd6a8"/>
<path d="M559.1,160.9L557.4,161.5L553.9,166.7L559.8,168.9L564.2,164.9L563.5,163.2Z" fill="#faa659"/>
<path d="M551.6,167.5L555.6,175.7L562.2,173.9L559.8,168.9L553.9,166.7Z" fill="#f57a14"/>
<path d="M357.5,116.6L361.0,125.3L364.5,127.1L368.0,120.1L379.4,116.6L381.2,110.4L373.3,104.5L358.4,105.9L356.0,108.0Z" fill="#fcd6a8"/>
<path d="M401.3,118.3L403.9,100.8L399.6,98.2L390.8,94.0L387.5,94.9L387.3,95.5L383.8,97.3L375.0,99.1L373.3,99.4L373.3,104.5L381.2,110.4Z" fill="#fcd6a8"/>
<path d="M410.1,98.2L409.2,95.5L397.8,85.9L393.4,84.5L390.0,88.0L388.1,94.8L390.8,94.0L399.6,98.2Z" fill="#fcd6a8"/>
<path d="M396.9,125.3L399.6,136.0L404.0,143.3L417.1,143.3L431.5,142.5L431.1,134.1L438.1,127.1L446.9,120.1L438.1,117.5L424.1,110.4L418.8,102.6L410.1,98.2L403.9,100.8L401.3,118.3Z" fill="#fcd6a8"/>
<path d="M419.7,101.7L425.8,101.7L429.3,100.8L425.8,96.4L425.8,90.6L423.7,90.6L422.3,97.3Z" fill="#f78c2e"/>
<path d="M554.0,76.6L560.0,78.0L563.5,79.5L566.0,80.3L565.5,80.4L566.5,80.8L572.0,79.5L577.0,78.5L581.0,77.0L586.0,77.5L588.5,73.0L588.0,66.5L582.6,63.3L580.8,58.0L579.9,51.0L572.0,49.3L565.9,45.8L560.7,47.5L558.9,54.5L553.7,61.5L553.1,61.7L552.8,62.4L547.5,65.0L545.8,69.9L545.5,75.0L547.3,76.0L548.0,76.0Z" fill="#fcb97c"/>
<path d="M567.7,89.2L575.5,94.4L581.7,91.8L580.8,81.3L577.0,78.5L572.0,79.5L566.5,80.8L565.9,80.6L565.0,83.0Z" fill="#fef0d9"/>
<path d="M560.7,47.5L565.9,45.8L572.0,49.3L579.9,51.0L580.8,58.0L586.0,56.0L589.8,51.2L589.6,51.0L586.0,46.6L578.2,38.2L572.0,37.3L563.3,39.9L557.8,43.6L558.6,48.5L558.3,49.4L558.9,52.0Z" fill="#fef0d9"/>
<path d="M586.9,90.4L586.1,95.7L591.3,96.6L593.9,89.6L598.3,87.8L601.0,84.3L605.3,80.8L606.2,73.8L601.8,72.9L594.8,75.5L591.3,80.8L590.4,86.1Z" fill="#f57a14"/>
<path d="M593.9,98.3L599.2,99.2L601.8,94.8L600.1,88.7L598.3,87.8L593.9,89.6L591.3,96.6Z" fill="#faa659"/>
<path d="M512.0,125.0L525.0,120.0L535.0,112.0L545.0,106.0L556.0,100.0L560.0,96.0L567.7,89.2L565.0,83.0L565.9,80.5L565.5,80.4L566.0,80.3L563.3,80.8L556.3,82.4L551.9,84.8L547.5,88.3L543.1,91.2L538.1,93.0L530.2,98.2L527.6,104.2L522.3,109.4L516.0,111.8L510.0,113.8L504.8,115.3L501.4,115.8L498.0,117.5L502.0,123.0Z" fill="#fccd9c"/>
<path d="M563.0,107.0L572.0,104.0L575.5,94.4L567.7,89.2L560.0,96.0L558.0,102.0Z" fill="#fcc185"/>
<path d="M508.0,131.0L517.0,128.0L516.6,123.2L512.0,125.0L502.0,123.0L501.6,122.4L502.0,124.0Z" fill="#fcd6a8"/>
<path d="M492.5,154.0L494.0,151.0L492.0,147.8L489.0,149.0L489.5,153.5Z" fill="#faa659"/>
<path d="M497.0,155.5L499.0,152.0L497.5,148.5L494.5,149.5L494.5,154.0Z" fill="#faa659"/>
</g>
<path d="M351.4,108.7 L353.1,103.6 L357.5,101.7 L366.3,100.8 L375.0,99.1 L383.8,97.3 L387.3,95.5 L389.3,90.0 L390.8,83.5 L396.0,82.6 L401.3,82.4 L404.0,78.0 L406.6,74.5 L412.0,73.0 L417.1,71.9 L420.6,67.5 L424.0,64.8 L427.6,63.1 L431.1,66.6 L435.5,72.8 L440.7,79.8 L441.6,87.7 L445.1,92.0 L449.5,93.3 L453.9,94.2 L455.5,99.5 L458.3,104.1 L461.0,108.0 L464.6,110.4 L472.0,111.2 L479.7,112.2 L486.0,113.4 L492.2,114.8 L498.0,116.3 L504.8,115.3 L510.0,113.8 L516.0,111.8 L522.3,109.4 L527.6,104.2 L530.2,98.2 L538.1,93.0 L543.1,91.2 L547.5,88.3 L551.9,84.8 L556.3,82.4 L563.3,80.8 L566.0,80.3 L560.0,78.4 L554.0,77.0 L548.0,76.4 L545.5,75.0 L545.8,69.9 L547.5,65.0 L552.8,62.4 L556.0,55.5 L558.6,48.5 L557.8,43.6 L563.3,39.9 L572.0,37.3 L578.2,38.2 L582.6,42.3 L586.0,46.6 L589.6,51.0 L596.6,56.3 L603.6,59.2 L610.6,62.4 L617.6,59.2 L623.9,56.0 L625.0,63.3 L623.2,72.0 L621.3,80.8 L618.7,89.6 L616.0,95.7 L613.5,97.8 L610.0,101.0 L606.5,105.5 L602.5,109.0 L598.8,112.5 L596.0,117.0 L592.5,121.0 L589.5,126.0 L588.2,132.0 L587.0,137.3 L584.2,142.8 L581.5,150.0 L580.0,158.0 L580.8,163.8 L584.0,170.8 L588.6,177.8 L590.6,186.6 L586.5,195.3 L584.6,200.5 L581.1,207.5 L575.8,214.5 L570.6,219.8 L563.6,224.2 L559.2,229.4 L556.0,236.4 L549.5,238.0 L542.6,239.2 L533.8,241.0 L531.0,243.5 L530.2,248.9 L527.8,248.0 L525.9,244.3 L522.5,240.5 L519.8,238.2 L512.8,237.3 L507.5,234.7 L500.5,233.4 L495.0,233.8 L491.1,235.0 L486.5,235.5 L482.3,237.0 L478.8,240.2 L474.5,240.3 L471.5,239.0 L468.5,236.5 L467.2,232.0 L466.0,228.0 L462.5,225.0 L459.2,221.5 L457.8,217.3 L459.6,212.5 L463.5,208.0 L462.0,203.0 L456.0,200.5 L448.0,199.5 L440.3,200.5 L433.3,198.9 L427.5,197.8 L422.8,198.5 L417.5,195.8 L411.8,195.0 L405.0,196.0 L399.0,193.5 L392.6,189.6 L386.0,185.5 L380.3,181.5 L374.5,176.5 L370.5,170.0 L367.0,163.0 L364.2,156.3 L364.8,147.6 L363.7,137.6 L359.3,128.8 L353.1,123.6 L350.5,116.6Z" fill="none" stroke="#9d93c8" stroke-width="0.6"/>
<ellipse cx="527.9" cy="255.2" rx="5.6" ry="3.9" fill="#fffdf8" stroke="#6a6a6a" stroke-width="0.9" stroke-dasharray="1.4 0.9" transform="rotate(-20 527.9 255.2)"/>
<path d="M595.3,210.5C593,212 591,217 590.6,224C593,221 595.8,215 595.3,210.5Z" fill="#fff" stroke="#aaa" stroke-width="0.6"/>
<line x1="600.7" y1="214.4" x2="601.7" y2="220.0" stroke="#b3abe3" stroke-width="2.6"/>
<line x1="600.8" y1="215.0" x2="601.6" y2="219.4" stroke="#8f88c6" stroke-width="0.7"/>
<line x1="596.2" y1="234.6" x2="597.6" y2="240.0" stroke="#b3abe3" stroke-width="2.6"/>
<line x1="596.3" y1="235.1" x2="597.5" y2="239.5" stroke="#8f88c6" stroke-width="0.7"/>
<line x1="527.3" y1="275.1" x2="529.3" y2="280.3" stroke="#b3abe3" stroke-width="2.6"/>
<line x1="527.5" y1="275.6" x2="529.1" y2="279.8" stroke="#8f88c6" stroke-width="0.7"/>
<line x1="586.1" y1="271.9" x2="586.1" y2="277.5" stroke="#b3abe3" stroke-width="2.6"/>
<line x1="586.1" y1="272.5" x2="586.1" y2="276.9" stroke="#8f88c6" stroke-width="0.7"/>
<line x1="532.7" y1="297.5" x2="532.9" y2="303.1" stroke="#b3abe3" stroke-width="2.6"/>
<line x1="532.7" y1="298.1" x2="532.9" y2="302.5" stroke="#8f88c6" stroke-width="0.7"/>
<line x1="587.8" y1="297.7" x2="585.8" y2="302.9" stroke="#b3abe3" stroke-width="2.6"/>
<line x1="587.6" y1="298.2" x2="586.0" y2="302.4" stroke="#8f88c6" stroke-width="0.7"/>
<line x1="520.2" y1="330.9" x2="520.4" y2="336.5" stroke="#b3abe3" stroke-width="2.6"/>
<line x1="520.2" y1="331.5" x2="520.4" y2="335.9" stroke="#8f88c6" stroke-width="0.7"/>
<line x1="571.0" y1="324.6" x2="567.4" y2="328.8" stroke="#b3abe3" stroke-width="2.6"/>
<line x1="570.6" y1="325.0" x2="567.8" y2="328.4" stroke="#8f88c6" stroke-width="0.7"/>
<line x1="551.2" y1="350.3" x2="546.0" y2="352.3" stroke="#b3abe3" stroke-width="2.6"/>
<line x1="550.7" y1="350.5" x2="546.5" y2="352.1" stroke="#8f88c6" stroke-width="0.7"/>
<circle cx="541" cy="271.5" r="0.6" fill="#555"/>
<circle cx="544.5" cy="269.5" r="0.6" fill="#555"/>
<circle cx="546.5" cy="273.5" r="0.6" fill="#555"/>
<circle cx="554.5" cy="274.5" r="0.6" fill="#555"/>
<circle cx="557.5" cy="273" r="0.6" fill="#555"/>
<circle cx="559.5" cy="272" r="0.6" fill="#555"/>
<circle cx="557" cy="297.5" r="0.6" fill="#555"/>
<circle cx="558.5" cy="302" r="0.6" fill="#555"/>
<circle cx="567.5" cy="304" r="0.6" fill="#555"/>
<circle cx="572" cy="305.5" r="0.6" fill="#555"/>
<circle cx="574" cy="301" r="0.6" fill="#555"/>
<circle cx="549" cy="329" r="0.6" fill="#555"/>
<circle cx="563" cy="335" r="0.6" fill="#555"/>
<circle cx="542.9" cy="270.2" r="0.6" fill="#555"/>
<circle cx="545.4" cy="271.4" r="0.6" fill="#555"/>
<circle cx="555.4" cy="272.7" r="0.6" fill="#555"/>
<circle cx="558" cy="275.2" r="0.6" fill="#555"/>
<circle cx="556.7" cy="271.4" r="0.6" fill="#555"/>
<circle cx="578.5" cy="277.7" r="0.6" fill="#555"/>
<circle cx="558" cy="300.3" r="0.6" fill="#555"/>
<circle cx="559.2" cy="304" r="0.6" fill="#555"/>
<circle cx="573" cy="297.8" r="0.6" fill="#555"/>
<circle cx="580.6" cy="302.8" r="0.6" fill="#555"/>
<circle cx="566.7" cy="302.8" r="0.6" fill="#555"/>
<circle cx="537.8" cy="321.7" r="0.6" fill="#555"/>
<circle cx="531.6" cy="328" r="0.6" fill="#555"/>
<circle cx="549.9" cy="339.2" r="0.6" fill="#555"/>
<circle cx="596" cy="258" r="0.6" fill="#555"/>
<circle cx="600.5" cy="262" r="0.6" fill="#555"/>
<line x1="590.5" y1="53.5" x2="460" y2="223" stroke="#111" stroke-width="1.2"/>
<path d="M382.5,156.0L376.71,148.85A9.2,9.2 0 0 1 391.70,156.00Z" fill="#2a93d1"/><path d="M382.5,156.0L391.70,156.00A9.2,9.2 0 1 1 376.34,149.16Z" fill="#ee1b24"/><path d="M382.5,156.0L376.34,149.16A9.2,9.2 0 0 1 376.71,148.85Z" fill="#f2e94e"/>
<path d="M413.8,167.1L405.05,164.26A9.2,9.2 0 0 1 422.98,167.74Z" fill="#2a93d1"/><path d="M413.8,167.1L422.98,167.74A9.2,9.2 0 1 1 404.91,164.72Z" fill="#ee1b24"/><path d="M413.8,167.1L404.91,164.72A9.2,9.2 0 0 1 405.05,164.26Z" fill="#f2e94e"/>
<path d="M403.2,187.8L394.04,187.00A9.2,9.2 0 0 1 412.40,187.96Z" fill="#2a93d1"/><path d="M403.2,187.8L412.40,187.96A9.2,9.2 0 0 1 394.09,189.08Z" fill="#ee1b24"/><path d="M403.2,187.8L394.09,189.08A9.2,9.2 0 0 1 394.04,187.00Z" fill="#f2e94e"/>
<path d="M447.6,191.8L445.69,200.80A9.2,9.2 0 1 1 456.80,191.80Z" fill="#2a93d1"/><path d="M447.6,191.8L456.80,191.80A9.2,9.2 0 0 1 446.80,200.96Z" fill="#ee1b24"/><path d="M447.6,191.8L446.80,200.96A9.2,9.2 0 0 1 445.69,200.80Z" fill="#f2e94e"/>
<path d="M452.5,170.5L443.57,172.73A9.2,9.2 0 1 1 461.56,172.10Z" fill="#2a93d1"/><path d="M452.5,170.5L461.56,172.10A9.2,9.2 0 0 1 443.85,173.65Z" fill="#ee1b24"/><path d="M452.5,170.5L443.85,173.65A9.2,9.2 0 0 1 443.57,172.73Z" fill="#f2e94e"/>
<path d="M473.7,163.6L469.67,155.33A9.2,9.2 0 0 1 482.79,165.04Z" fill="#2a93d1"/><path d="M473.7,163.6L482.79,165.04A9.2,9.2 0 1 1 469.67,155.33Z" fill="#ee1b24"/>
<path d="M473.7,186.4L465.65,190.86A9.2,9.2 0 1 1 482.76,184.80Z" fill="#2a93d1"/><path d="M473.7,186.4L482.76,184.80A9.2,9.2 0 0 1 465.98,191.41Z" fill="#ee1b24"/><path d="M473.7,186.4L465.98,191.41A9.2,9.2 0 0 1 465.65,190.86Z" fill="#f2e94e"/>
<path d="M477.3,143.0L469.67,148.14A9.2,9.2 0 1 1 486.33,141.24Z" fill="#2a93d1"/><path d="M477.3,143.0L486.33,141.24A9.2,9.2 0 0 1 470.15,148.79Z" fill="#ee1b24"/><path d="M477.3,143.0L470.15,148.79A9.2,9.2 0 0 1 469.67,148.14Z" fill="#f2e94e"/>
<path d="M494.6,169.2L502.94,173.09A9.2,9.2 0 1 1 503.76,168.40Z" fill="#2a93d1"/><path d="M494.6,169.2L503.76,168.40A9.2,9.2 0 0 1 502.94,173.09Z" fill="#ee1b24"/>
<path d="M553.2,125.2L561.00,130.08A9.2,9.2 0 1 1 562.39,125.52Z" fill="#2a93d1"/><path d="M553.2,125.2L562.39,125.52A9.2,9.2 0 0 1 561.00,130.08Z" fill="#ee1b24"/>
<path d="M574.5,128.8L581.34,134.96A9.2,9.2 0 1 1 583.66,129.60Z" fill="#2a93d1"/><path d="M574.5,128.8L583.66,129.60A9.2,9.2 0 0 1 581.75,134.46Z" fill="#ee1b24"/><path d="M574.5,128.8L581.75,134.46A9.2,9.2 0 0 1 581.34,134.96Z" fill="#f2e94e"/>
<path d="M543.1,160.3L552.16,161.90A9.2,9.2 0 1 1 552.30,160.30Z" fill="#2a93d1"/><path d="M543.1,160.3L552.30,160.30A9.2,9.2 0 0 1 552.23,161.42Z" fill="#ee1b24"/><path d="M543.1,160.3L552.23,161.42A9.2,9.2 0 0 1 552.16,161.90Z" fill="#f2e94e"/>
<path d="M570.4,165.6L577.94,170.88A9.2,9.2 0 1 1 579.46,167.20Z" fill="#2a93d1"/><path d="M570.4,165.6L579.46,167.20A9.2,9.2 0 0 1 577.94,170.88Z" fill="#ee1b24"/>
<path d="M598.0,177.0L605.05,182.91A9.2,9.2 0 1 1 606.89,179.38Z" fill="#2a93d1"/><path d="M598.0,177.0L606.89,179.38A9.2,9.2 0 0 1 605.05,182.91Z" fill="#ee1b24"/>
<path d="M577.5,185.2L586.03,188.65A9.2,9.2 0 1 1 586.66,186.00Z" fill="#2a93d1"/><path d="M577.5,185.2L586.66,186.00A9.2,9.2 0 0 1 586.03,188.65Z" fill="#ee1b24"/>
<path d="M549.5,184.7L557.84,188.59A9.2,9.2 0 1 1 558.66,185.50Z" fill="#2a93d1"/><path d="M549.5,184.7L558.66,185.50A9.2,9.2 0 0 1 557.84,188.59Z" fill="#ee1b24"/>
<path d="M515.2,190.7L522.74,195.98A9.2,9.2 0 1 1 524.36,191.50Z" fill="#2a93d1"/><path d="M515.2,190.7L524.36,191.50A9.2,9.2 0 0 1 522.74,195.98Z" fill="#ee1b24"/>
<path d="M547.8,229.4L554.31,235.91A9.2,9.2 0 1 1 556.69,231.78Z" fill="#2a93d1"/><path d="M547.8,229.4L556.69,231.78A9.2,9.2 0 0 1 554.31,235.91Z" fill="#ee1b24"/>
<path d="M552.1,249.6L560.75,252.75A9.2,9.2 0 1 1 561.26,250.40Z" fill="#2a93d1"/><path d="M552.1,249.6L561.26,250.40A9.2,9.2 0 0 1 560.75,252.75Z" fill="#ee1b24"/>
<path d="M556.2,324.8L547.00,324.80A9.2,9.2 0 0 1 565.40,324.80Z" fill="#2a93d1"/><path d="M556.2,324.8L565.40,324.80A9.2,9.2 0 0 1 547.00,324.80Z" fill="#ee1b24"/>
<circle cx="556.2" cy="324.8" r="9.2" fill="none" stroke="#444" stroke-width="0.5"/>
<text x="363.0" y="142.8">Ngari</text>
<text x="350.6" y="172.7">Nagchu</text>
<text x="363.1" y="208.4">Shigase</text>
<text x="419.5" y="211.2">Ganze</text>
<text x="421.4" y="158.0">Guoluo</text>
<text x="423.0" y="179.0">Changdu</text>
<text x="463.0" y="141.8">Haibei</text>
<text x="507.5" y="152.7">Zhengzhou</text>
<text x="494.8" y="177.7">Chengdu</text>
<text x="548.4" y="117.7">Beijing</text>
<text x="582.4" y="132.4">Tianjin</text>
<text x="558.0" y="165.2">Ma'anshan</text>
<text x="596.0" y="181.9">Shanghai</text>
<text x="582.8" y="199.7">Hangzhou</text>
<text x="531.0" y="197.9">Wuhan</text>
<text x="495.5" y="211.8">Chongqing</text>
<text x="523.0" y="231.9">Guangzhou</text>
<text x="525.0" y="264.6">Shenzhen</text>
<text x="540.2" y="319.9">Sansha</text>
<g stroke="#111" stroke-width="1.7" fill="none" shape-rendering="auto">
<rect x="80" y="26.5" width="567.4" height="456"/>
<line x1="196.4" y1="26.5" x2="196.4" y2="482.5"/>
<line x1="80" y1="366" x2="647.4" y2="366"/>
<line x1="71" y1="37.9" x2="80" y2="37.9"/>
<line x1="71" y1="171.2" x2="80" y2="171.2"/>
<line x1="71" y1="304.5" x2="80" y2="304.5"/>
<line x1="71" y1="437.9" x2="80" y2="437.9"/>
<line x1="110.8" y1="482.5" x2="110.8" y2="491.2"/>
<line x1="264.0" y1="482.5" x2="264.0" y2="491.2"/>
<line x1="417.1" y1="482.5" x2="417.1" y2="491.2"/>
<line x1="570.3" y1="482.5" x2="570.3" y2="491.2"/>
</g>
<text x="64.6" y="43.2" text-anchor="end" font-size="16px">480</text>
<text x="64.6" y="176.5" text-anchor="end" font-size="16px">360</text>
<text x="64.6" y="309.8" text-anchor="end" font-size="16px">240</text>
<text x="64.6" y="443.2" text-anchor="end" font-size="16px">120</text>
<text x="111.2" y="510.2" text-anchor="middle" font-size="15.2px" style="stroke-width:0.1px">0</text>
<text x="264.0" y="510.2" text-anchor="middle" font-size="15.2px" style="stroke-width:0.1px">1</text>
<text x="417.2" y="510.2" text-anchor="middle" font-size="15.2px" style="stroke-width:0.1px">2</text>
<text x="570.6" y="510.2" text-anchor="middle" font-size="15.2px" style="stroke-width:0.1px">3</text>
<text x="357.6" y="538.2" text-anchor="middle" font-size="16.8px">Total material stocks (Gt)</text>
<text transform="translate(13.4,223.1) rotate(-90)" text-anchor="middle" font-size="16.78px">Per capita material stocks (t)</text>
<circle cx="102.3" cy="6.8" r="2.2" fill="#f00" stroke="none"/>
<text x="127.3" y="12.5" font-size="16.8px">Top 20% cities</text>
<g fill="#3e3e3e" stroke="none">
<circle cx="125.0" cy="366.6" r="2.1"/>
<circle cx="127.2" cy="366.1" r="2.1"/>
<circle cx="129.4" cy="367.3" r="2.1"/>
<circle cx="152.7" cy="367.3" r="2.1"/>
<circle cx="166.6" cy="368.5" r="2.1"/>
<circle cx="172.4" cy="366.1" r="2.1"/>
<circle cx="173.9" cy="368.8" r="2.1"/>
<circle cx="189.2" cy="368.8" r="2.1"/>
<circle cx="195.1" cy="370.9" r="2.1"/>
<circle cx="115.5" cy="372.8" r="2.1"/>
<circle cx="119.9" cy="372.4" r="2.1"/>
<circle cx="125.0" cy="373.1" r="2.1"/>
<circle cx="126.4" cy="374.6" r="2.1"/>
<circle cx="128.6" cy="372.4" r="2.1"/>
<circle cx="130.1" cy="370.9" r="2.1"/>
<circle cx="132.3" cy="372.4" r="2.1"/>
<circle cx="152.7" cy="370.9" r="2.1"/>
<circle cx="153.4" cy="373.9" r="2.1"/>
<circle cx="157.8" cy="371.7" r="2.1"/>
<circle cx="166.6" cy="372.4" r="2.1"/>
<circle cx="174.6" cy="372.4" r="2.1"/>
<circle cx="179.7" cy="374.2" r="2.1"/>
<circle cx="183.4" cy="374.6" r="2.1"/>
<circle cx="189.9" cy="370.9" r="2.1"/>
<circle cx="143.2" cy="375.0" r="2.1"/>
<circle cx="141.0" cy="377.5" r="2.1"/>
<circle cx="139.3" cy="379.4" r="2.1"/>
<circle cx="132.7" cy="378.7" r="2.1"/>
<circle cx="132.3" cy="381.2" r="2.1"/>
<circle cx="163.7" cy="376.8" r="2.1"/>
<circle cx="169.5" cy="376.8" r="2.1"/>
<circle cx="185.6" cy="377.5" r="2.1"/>
<circle cx="190.4" cy="377.8" r="2.1"/>
<circle cx="194.8" cy="379.0" r="2.1"/>
<circle cx="154.2" cy="375.0" r="2.1"/>
<circle cx="125.0" cy="383.8" r="2.1"/>
<circle cx="146.1" cy="382.6" r="2.1"/>
<circle cx="144.7" cy="384.1" r="2.1"/>
<circle cx="149.1" cy="381.6" r="2.1"/>
<circle cx="151.3" cy="381.2" r="2.1"/>
<circle cx="152.7" cy="382.6" r="2.1"/>
<circle cx="157.1" cy="382.6" r="2.1"/>
<circle cx="159.3" cy="381.9" r="2.1"/>
<circle cx="161.5" cy="381.9" r="2.1"/>
<circle cx="160.0" cy="384.1" r="2.1"/>
<circle cx="165.1" cy="384.8" r="2.1"/>
<circle cx="173.9" cy="383.1" r="2.1"/>
<circle cx="171.7" cy="384.8" r="2.1"/>
<circle cx="170.2" cy="386.0" r="2.1"/>
<circle cx="181.2" cy="381.2" r="2.1"/>
<circle cx="186.3" cy="384.1" r="2.1"/>
<circle cx="190.7" cy="384.8" r="2.1"/>
<circle cx="135.9" cy="384.8" r="2.1"/>
<circle cx="133.0" cy="384.1" r="2.1"/>
<circle cx="131.5" cy="382.6" r="2.1"/>
<circle cx="124.2" cy="386.7" r="2.1"/>
<circle cx="127.9" cy="389.9" r="2.1"/>
<circle cx="130.8" cy="387.7" r="2.1"/>
<circle cx="132.3" cy="389.9" r="2.1"/>
<circle cx="137.4" cy="386.3" r="2.1"/>
<circle cx="141.0" cy="387.7" r="2.1"/>
<circle cx="142.5" cy="389.2" r="2.1"/>
<circle cx="144.0" cy="387.0" r="2.1"/>
<circle cx="148.3" cy="387.7" r="2.1"/>
<circle cx="156.4" cy="387.4" r="2.1"/>
<circle cx="162.2" cy="388.5" r="2.1"/>
<circle cx="181.9" cy="387.0" r="2.1"/>
<circle cx="183.4" cy="388.5" r="2.1"/>
<circle cx="188.5" cy="388.5" r="2.1"/>
<circle cx="185.6" cy="386.0" r="2.1"/>
<circle cx="118.4" cy="392.8" r="2.1"/>
<circle cx="132.3" cy="391.4" r="2.1"/>
<circle cx="134.5" cy="392.8" r="2.1"/>
<circle cx="135.9" cy="394.3" r="2.1"/>
<circle cx="142.5" cy="390.9" r="2.1"/>
<circle cx="144.7" cy="391.4" r="2.1"/>
<circle cx="168.8" cy="391.4" r="2.1"/>
<circle cx="172.4" cy="390.9" r="2.1"/>
<circle cx="165.9" cy="395.0" r="2.1"/>
<circle cx="181.9" cy="391.4" r="2.1"/>
<circle cx="185.6" cy="393.6" r="2.1"/>
<circle cx="190.7" cy="393.6" r="2.1"/>
<circle cx="182.6" cy="392.8" r="2.1"/>
<circle cx="125.0" cy="395.0" r="2.1"/>
<circle cx="120.6" cy="399.1" r="2.1"/>
<circle cx="122.1" cy="399.4" r="2.1"/>
<circle cx="134.5" cy="395.8" r="2.1"/>
<circle cx="135.9" cy="398.7" r="2.1"/>
<circle cx="149.8" cy="395.8" r="2.1"/>
<circle cx="157.1" cy="395.0" r="2.1"/>
<circle cx="163.7" cy="396.5" r="2.1"/>
<circle cx="161.5" cy="398.0" r="2.1"/>
<circle cx="154.9" cy="399.4" r="2.1"/>
<circle cx="144.0" cy="398.7" r="2.1"/>
<circle cx="173.2" cy="397.2" r="2.1"/>
<circle cx="184.1" cy="398.2" r="2.1"/>
<circle cx="187.8" cy="397.2" r="2.1"/>
<circle cx="196.5" cy="399.1" r="2.1"/>
<circle cx="132.3" cy="401.6" r="2.1"/>
<circle cx="133.7" cy="402.3" r="2.1"/>
<circle cx="118.4" cy="405.3" r="2.1"/>
<circle cx="120.6" cy="404.5" r="2.1"/>
<circle cx="123.5" cy="403.8" r="2.1"/>
<circle cx="142.5" cy="403.1" r="2.1"/>
<circle cx="144.7" cy="402.3" r="2.1"/>
<circle cx="146.9" cy="403.1" r="2.1"/>
<circle cx="145.4" cy="404.5" r="2.1"/>
<circle cx="143.2" cy="405.3" r="2.1"/>
<circle cx="160.0" cy="403.4" r="2.1"/>
<circle cx="173.2" cy="403.1" r="2.1"/>
<circle cx="173.9" cy="404.5" r="2.1"/>
<circle cx="189.2" cy="403.5" r="2.1"/>
<circle cx="195.1" cy="401.6" r="2.1"/>
<circle cx="127.9" cy="406.4" r="2.1"/>
<circle cx="133.0" cy="407.4" r="2.1"/>
<circle cx="132.3" cy="409.6" r="2.1"/>
<circle cx="133.7" cy="411.1" r="2.1"/>
<circle cx="142.5" cy="407.0" r="2.1"/>
<circle cx="144.7" cy="407.4" r="2.1"/>
<circle cx="145.4" cy="408.9" r="2.1"/>
<circle cx="144.0" cy="409.6" r="2.1"/>
<circle cx="154.9" cy="406.7" r="2.1"/>
<circle cx="156.4" cy="409.3" r="2.1"/>
<circle cx="158.6" cy="410.4" r="2.1"/>
<circle cx="162.2" cy="408.5" r="2.1"/>
<circle cx="164.4" cy="411.8" r="2.1"/>
<circle cx="161.5" cy="412.8" r="2.1"/>
<circle cx="124.2" cy="411.4" r="2.1"/>
<circle cx="116.9" cy="414.3" r="2.1"/>
<circle cx="135.9" cy="414.7" r="2.1"/>
<circle cx="131.5" cy="416.2" r="2.1"/>
<circle cx="145.4" cy="413.7" r="2.1"/>
<circle cx="142.5" cy="416.2" r="2.1"/>
<circle cx="189.2" cy="412.6" r="2.1"/>
<circle cx="178.3" cy="415.0" r="2.1"/>
<circle cx="192.9" cy="418.1" r="2.1"/>
<circle cx="157.1" cy="418.1" r="2.1"/>
<circle cx="133.0" cy="418.4" r="2.1"/>
<circle cx="127.9" cy="419.6" r="2.1"/>
<circle cx="116.9" cy="419.6" r="2.1"/>
<circle cx="144.7" cy="419.9" r="2.1"/>
<circle cx="139.6" cy="422.0" r="2.1"/>
<circle cx="138.8" cy="424.2" r="2.1"/>
<circle cx="144.7" cy="423.5" r="2.1"/>
<circle cx="151.3" cy="421.3" r="2.1"/>
<circle cx="153.4" cy="421.3" r="2.1"/>
<circle cx="157.8" cy="420.6" r="2.1"/>
<circle cx="157.1" cy="423.1" r="2.1"/>
<circle cx="166.6" cy="419.6" r="2.1"/>
<circle cx="168.8" cy="421.3" r="2.1"/>
<circle cx="170.2" cy="420.1" r="2.1"/>
<circle cx="169.5" cy="424.2" r="2.1"/>
<circle cx="132.3" cy="420.1" r="2.1"/>
<circle cx="125.7" cy="425.7" r="2.1"/>
<circle cx="124.2" cy="427.4" r="2.1"/>
<circle cx="122.8" cy="428.6" r="2.1"/>
<circle cx="126.4" cy="429.3" r="2.1"/>
<circle cx="128.6" cy="427.9" r="2.1"/>
<circle cx="130.1" cy="427.9" r="2.1"/>
<circle cx="121.3" cy="431.5" r="2.1"/>
<circle cx="123.5" cy="431.5" r="2.1"/>
<circle cx="125.0" cy="430.1" r="2.1"/>
<circle cx="129.4" cy="431.5" r="2.1"/>
<circle cx="120.6" cy="432.3" r="2.1"/>
<circle cx="139.6" cy="430.1" r="2.1"/>
<circle cx="137.4" cy="432.3" r="2.1"/>
<circle cx="152.7" cy="430.4" r="2.1"/>
<circle cx="187.0" cy="427.2" r="2.1"/>
<circle cx="146.9" cy="432.3" r="2.1"/>
<circle cx="122.8" cy="433.7" r="2.1"/>
<circle cx="127.2" cy="435.9" r="2.1"/>
<circle cx="130.8" cy="435.2" r="2.1"/>
<circle cx="136.7" cy="435.9" r="2.1"/>
<circle cx="138.8" cy="435.9" r="2.1"/>
<circle cx="146.1" cy="434.5" r="2.1"/>
<circle cx="148.3" cy="435.2" r="2.1"/>
<circle cx="149.8" cy="436.6" r="2.1"/>
<circle cx="146.9" cy="437.4" r="2.1"/>
<circle cx="127.9" cy="437.4" r="2.1"/>
<circle cx="116.9" cy="443.6" r="2.1"/>
<circle cx="174.3" cy="440.7" r="2.1"/>
<circle cx="178.6" cy="439.7" r="2.1"/>
<circle cx="127.9" cy="438.7" r="2.1"/>
<circle cx="129.4" cy="440.4" r="2.1"/>
<circle cx="152.0" cy="442.2" r="2.1"/>
<circle cx="142.5" cy="443.6" r="2.1"/>
<circle cx="158.3" cy="447.7" r="2.1"/>
<circle cx="148.8" cy="448.5" r="2.1"/>
<circle cx="141.0" cy="449.6" r="2.1"/>
<circle cx="135.9" cy="450.9" r="2.1"/>
<circle cx="133.0" cy="452.4" r="2.1"/>
<circle cx="147.9" cy="453.3" r="2.1"/>
<circle cx="135.9" cy="455.0" r="2.1"/>
<circle cx="129.6" cy="459.7" r="2.1"/>
<circle cx="123.2" cy="465.5" r="2.1"/>
<circle cx="144.7" cy="466.3" r="2.1"/>
</g>
<g fill="#f00" stroke="none">
<circle cx="115.0" cy="38.4" r="2.15"/>
<circle cx="113.6" cy="172.9" r="2.15"/>
<circle cx="119.9" cy="197.5" r="2.15"/>
<circle cx="114.9" cy="253.6" r="2.15"/>
<circle cx="116.1" cy="266.9" r="2.15"/>
<circle cx="114.9" cy="276.4" r="2.15"/>
<circle cx="123.7" cy="280.4" r="2.15"/>
<circle cx="170.9" cy="286.9" r="2.15"/>
<circle cx="111.5" cy="297.0" r="2.15"/>
<circle cx="115.0" cy="298.0" r="2.15"/>
<circle cx="114.6" cy="315.3" r="2.15"/>
<circle cx="122.9" cy="321.1" r="2.15"/>
<circle cx="136.0" cy="325.4" r="2.15"/>
<circle cx="117.9" cy="330.4" r="2.15"/>
<circle cx="124.9" cy="329.1" r="2.15"/>
<circle cx="128.4" cy="330.4" r="2.15"/>
<circle cx="152.1" cy="331.9" r="2.15"/>
<circle cx="170.4" cy="331.2" r="2.15"/>
<circle cx="175.9" cy="331.9" r="2.15"/>
<circle cx="115.9" cy="341.7" r="2.15"/>
<circle cx="140.8" cy="345.0" r="2.15"/>
<circle cx="187.2" cy="341.0" r="2.15"/>
<circle cx="190.8" cy="342.5" r="2.15"/>
<circle cx="134.2" cy="350.5" r="2.15"/>
<circle cx="146.3" cy="350.0" r="2.15"/>
<circle cx="159.8" cy="348.0" r="2.15"/>
<circle cx="158.1" cy="351.3" r="2.15"/>
<circle cx="165.1" cy="351.3" r="2.15"/>
<circle cx="177.7" cy="352.3" r="2.15"/>
<circle cx="186.5" cy="350.5" r="2.15"/>
<circle cx="190.8" cy="351.3" r="2.15"/>
<circle cx="137.5" cy="355.0" r="2.15"/>
<circle cx="113.6" cy="356.8" r="2.15"/>
<circle cx="119.6" cy="358.5" r="2.15"/>
<circle cx="124.2" cy="358.5" r="2.15"/>
<circle cx="127.9" cy="359.3" r="2.15"/>
<circle cx="148.8" cy="358.8" r="2.15"/>
<circle cx="150.6" cy="360.6" r="2.15"/>
<circle cx="156.8" cy="359.3" r="2.15"/>
<circle cx="160.6" cy="358.0" r="2.15"/>
<circle cx="158.1" cy="361.8" r="2.15"/>
<circle cx="193.8" cy="356.8" r="2.15"/>
<circle cx="118.6" cy="361.8" r="2.15"/>
<circle cx="117.9" cy="364.3" r="2.15"/>
<circle cx="133.5" cy="364.3" r="2.15"/>
<circle cx="135.5" cy="364.8" r="2.15"/>
<circle cx="151.8" cy="363.6" r="2.15"/>
<circle cx="190.8" cy="364.3" r="2.15"/>
<circle cx="194.3" cy="366.0" r="2.15"/>
<circle cx="238.2" cy="322.6" r="2.15"/>
<circle cx="204.6" cy="328.1" r="2.15"/>
<circle cx="212.6" cy="332.9" r="2.15"/>
<circle cx="216.6" cy="351.3" r="2.15"/>
<circle cx="250.3" cy="352.0" r="2.15"/>
<circle cx="206.3" cy="357.0" r="2.15"/>
<circle cx="224.7" cy="357.0" r="2.15"/>
<circle cx="259.1" cy="357.0" r="2.15"/>
<circle cx="310.1" cy="357.0" r="2.15"/>
<circle cx="329.4" cy="355.3" r="2.15"/>
<circle cx="333.5" cy="361.6" r="2.15"/>
<circle cx="330.5" cy="364.8" r="2.15"/>
<circle cx="209.3" cy="366.6" r="2.15"/>
<circle cx="277.4" cy="370.6" r="2.15"/>
<circle cx="360.9" cy="370.6" r="2.15"/>
<circle cx="202.1" cy="376.9" r="2.15"/>
<circle cx="239.7" cy="375.1" r="2.15"/>
<circle cx="233.5" cy="377.9" r="2.15"/>
<circle cx="209.6" cy="379.1" r="2.15"/>
<circle cx="212.9" cy="378.6" r="2.15"/>
<circle cx="270.9" cy="376.6" r="2.15"/>
<circle cx="272.9" cy="375.9" r="2.15"/>
<circle cx="297.3" cy="375.1" r="2.15"/>
<circle cx="239.0" cy="383.2" r="2.15"/>
<circle cx="220.7" cy="385.9" r="2.15"/>
<circle cx="232.7" cy="386.7" r="2.15"/>
<circle cx="199.0" cy="387.9" r="2.15"/>
<circle cx="208.6" cy="388.9" r="2.15"/>
<circle cx="314.1" cy="393.7" r="2.15"/>
<circle cx="198.3" cy="395.5" r="2.15"/>
<circle cx="219.1" cy="394.7" r="2.15"/>
<circle cx="215.9" cy="397.7" r="2.15"/>
<circle cx="253.3" cy="400.0" r="2.15"/>
<circle cx="223.9" cy="403.3" r="2.15"/>
<circle cx="199.0" cy="404.8" r="2.15"/>
<circle cx="219.1" cy="406.5" r="2.15"/>
<circle cx="222.9" cy="407.5" r="2.15"/>
<circle cx="200.6" cy="413.1" r="2.15"/>
<circle cx="197.5" cy="416.1" r="2.15"/>
<circle cx="243.8" cy="413.6" r="2.15"/>
<circle cx="255.8" cy="416.1" r="2.15"/>
<circle cx="215.1" cy="417.6" r="2.15"/>
<circle cx="235.0" cy="421.9" r="2.15"/>
<circle cx="207.1" cy="423.4" r="2.15"/>
<circle cx="221.4" cy="423.4" r="2.15"/>
<circle cx="235.2" cy="425.6" r="2.15"/>
<circle cx="263.9" cy="426.4" r="2.15"/>
<circle cx="268.6" cy="429.9" r="2.15"/>
<circle cx="295.0" cy="432.7" r="2.15"/>
<circle cx="232.7" cy="433.7" r="2.15"/>
<circle cx="243.0" cy="435.2" r="2.15"/>
<circle cx="259.1" cy="434.7" r="2.15"/>
<circle cx="209.6" cy="439.7" r="2.15"/>
<circle cx="219.1" cy="438.9" r="2.15"/>
<circle cx="298.3" cy="440.7" r="2.15"/>
<circle cx="437.2" cy="333.1" r="2.15"/>
<circle cx="375.6" cy="373.6" r="2.15"/>
<circle cx="383.7" cy="370.6" r="2.15"/>
<circle cx="402.0" cy="369.8" r="2.15"/>
<circle cx="393.2" cy="396.9" r="2.15"/>
<circle cx="446.0" cy="419.8" r="2.15"/>
<circle cx="614.8" cy="361.6" r="2.15"/>
<circle cx="545.9" cy="379.7" r="2.15"/>
<circle cx="567.5" cy="398.5" r="2.15"/>
<circle cx="629.1" cy="402.3" r="2.15"/>
<circle cx="538.1" cy="432.0" r="2.15"/>
</g>
<text x="96.4" y="59.8">Guoluo</text>
<text x="123.4" y="178.2">Ngari</text>
<text x="125.5" y="209.6">Shigatse</text>
<text x="79.4" y="251.1">Nagchu</text>
<text x="120.4" y="269.4">Changdu</text>
<text x="60.0" y="281.2">Haibei</text>
<text x="125.9" y="286.2">Garzê</text>
<text x="174.3" y="297.0">Ma'anshan</text>
<text x="63.7" y="302.0">Sansha</text>
<text x="120.4" y="305.8">Nyingchi</text>
<text x="408.1" y="351.2">Hangzhou</text>
<text x="396.9" y="385.9">Wuhan</text>
<text x="371.0" y="412.3">Tianjin</text>
<text x="409.5" y="439.4">Guangzhou</text>
<text x="492.4" y="395.9">Chengdu</text>
<text x="592.1" y="381.2">Shenzhen</text>
<text x="545.5" y="417.1">Beijing</text>
<text x="605.2" y="420.9">Chongqing</text>
<text x="502.2" y="448.5">Shanghai</text>
<text x="219.5" y="52.8">(b)</text>
<path d="M286.0,81.8L281.54,73.75A9.2,9.2 0 0 1 295.20,81.80Z" fill="#2a93d1"/><path d="M286.0,81.8L295.20,81.80A9.2,9.2 0 0 1 281.54,89.85Z" fill="#ee1b24"/><path d="M286.0,81.8L281.54,89.85A9.2,9.2 0 0 1 281.54,73.75Z" fill="#ffff66"/><circle cx="286" cy="81.8" r="9.2" fill="none" stroke="#555" stroke-width="0.6"/>
<line x1="286" y1="81.8" x2="281.54" y2="73.75" stroke="#333" stroke-width="0.6"/>
<line x1="286" y1="81.8" x2="295.20" y2="81.80" stroke="#333" stroke-width="0.6"/>
<line x1="286" y1="81.8" x2="281.54" y2="89.85" stroke="#333" stroke-width="0.6"/>
<rect x="221.2" y="103.6" width="20" height="10.8" fill="#ffff66" stroke="#8d8d6a" stroke-width="0.8"/>
<rect x="221" y="122.9" width="20.4" height="11" fill="#2a93d1" stroke="#777" stroke-width="0.6"/>
<rect x="221" y="143.5" width="20.4" height="11" fill="#ee1b24" stroke="#a33" stroke-width="0.6"/>
<text x="249.6" y="114.5">Products</text>
<text x="252" y="131.9">Buildings</text>
<text x="249.2" y="151.5">Infrastructure</text>
<text x="248.2" y="181.7" font-size="16px">0</text>
<text x="266.2" y="181.7" font-size="16px">500</text>
<text x="300.6" y="181.7" font-size="16px">1,000</text>
<rect x="252.8" y="185.8" width="27.6" height="3.4" fill="#111"/>
<rect x="280.4" y="186.2" width="27.4" height="2.8" fill="#fff" stroke="#111" stroke-width="0.8"/>
<text x="313.4" y="196.5">km</text>
<text x="280.4" y="243.9" font-size="16.7px">Total material stocks (Gt)</text>
<text x="323.6" y="260.2">0</text>
<rect x="337.2" y="253.5" width="11.2" height="4.8" fill="#fef0d9"/>
<rect x="348.3" y="253.5" width="11.2" height="4.8" fill="#fdd8a8"/>
<rect x="359.4" y="253.5" width="11.2" height="4.8" fill="#fcb97b"/>
<rect x="370.4" y="253.5" width="11.2" height="4.8" fill="#fa9f50"/>
<rect x="381.5" y="253.5" width="11.2" height="4.8" fill="#f7841f"/>
<rect x="337.2" y="253.5" width="11.1" height="4.8" fill="none" stroke="#c9b79c" stroke-width="0.5"/>
<text x="400.2" y="260.2">3.5</text>
</svg></body></html>
